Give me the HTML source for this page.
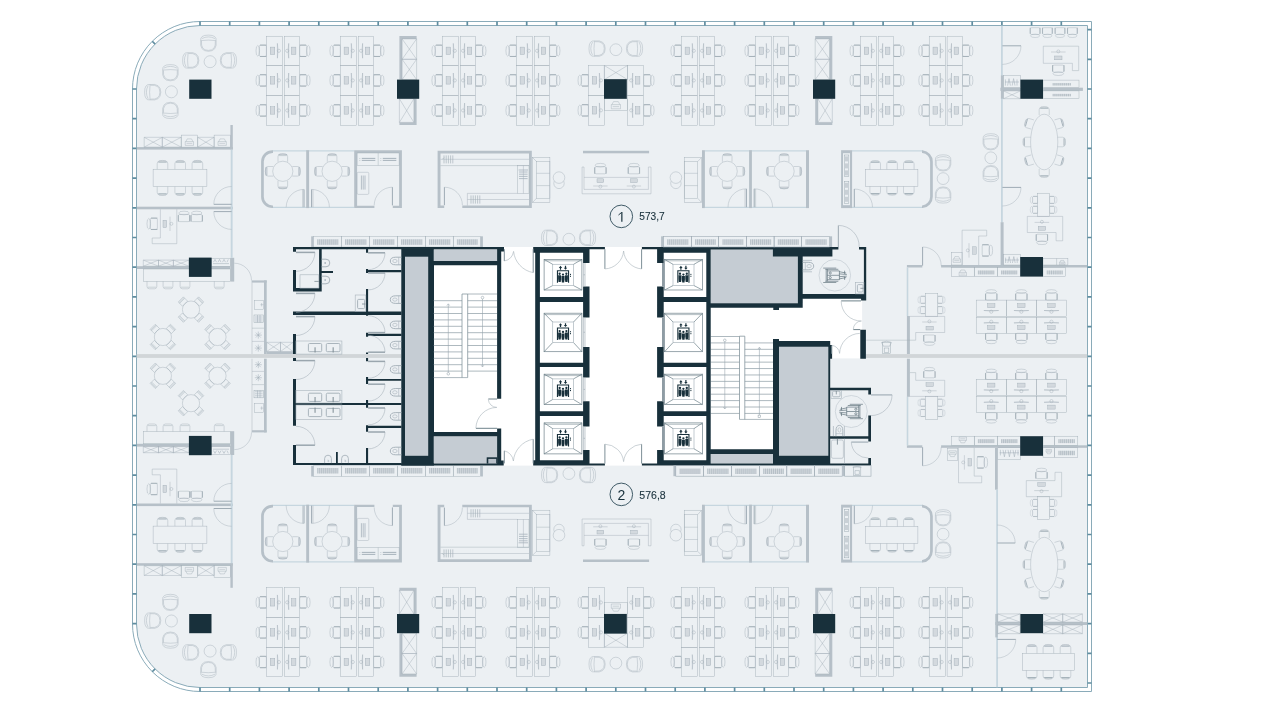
<!DOCTYPE html>
<html><head><meta charset="utf-8"><title>Floor plan</title>
<style>
html,body{margin:0;padding:0;background:#fff;}
body{width:1267px;height:712px;overflow:hidden;font-family:"Liberation Sans",sans-serif;}
svg{display:block;will-change:transform;}
text{font-family:"Liberation Sans",sans-serif;}
</style></head><body>
<svg width="1267" height="712" viewBox="0 0 1267 712">
<defs>
<g id="tc"><rect x="-2" y="-5.6" width="7.2" height="11.2" rx="1.4"/><path d="M-1.2 -5.7H5.2M-1.2 5.7H5.2" stroke-width="0.85"/><ellipse cx="-3.4" cy="0" rx="1.8" ry="5.3"/></g>
<g id="mc"><path d="M-5.3 0V-5.6Q-5.3 -8.2 -2.7 -8.2H2.7Q5.3 -8.2 5.3 -5.6V0"/><path d="M-4.2 -7.1H4.2" stroke-width="0.9"/><path d="M-3.6 -8.3Q0 -9.3 3.6 -8.3"/></g>
<g id="lc"><path d="M-7.7 -2.6Q-8.5 -8.1 0 -8.1Q8.5 -8.1 7.7 -2.6"/><path d="M-7.7 -2.6Q-9 8.1 0 8.1Q9 8.1 7.7 -2.6"/><path d="M-6.9 -2.2Q-7.8 7.2 0 7.2Q7.8 7.2 6.9 -2.2"/><path d="M-7.7 -2.6Q0 -3.6 7.7 -2.6"/><path d="M-6.6 -4.6Q0 -8 6.6 -4.6"/></g>
<g id="cc"><rect x="-3.6" y="-3.2" width="7.2" height="6" /><path d="M-3.6 -2.2H3.6M-3.6 -1.2H3.6"/></g>
<g id="pc"><path d="M-4.8 0V-5.2Q-4.8 -7.8 -2.4 -7.8H2.4Q4.8 -7.8 4.8 -5.2V0"/><path d="M-4 -6.2H4M-4 -7H4"/><path d="M-4.2 -7.2Q0 -9 4.2 -7.2"/></g>
<g id="wc"><path d="M0 -3.8H-5.5Q-11 -3.8 -11 0Q-11 3.8 -5.5 3.8H0" stroke-width="1"/><path d="M-2.6 -3.8V3.8"/><ellipse cx="-6.4" cy="0" rx="2.2" ry="1.6"/></g>
<g id="eli" fill="#18303b" stroke="none"><path d="M-6.1 -4.7H6.1V7.8H5V-3.6H-5V7.8H-6.1Z"/><circle cx="-3.4" cy="-1.1" r="1.15"/><circle cx="0" cy="-0.3" r="1.15"/><circle cx="3.4" cy="-1.1" r="1.15"/><path d="M-4.9 0.4H-1.9V4.2L-2.3 7.2H-4.5L-4.9 4.2Z"/><path d="M-1.5 1.2H1.5V4.8L1.1 7.6H-1.1L-1.5 4.8Z"/><path d="M1.9 0.4H4.9V4.2L4.5 7.2H2.3L1.9 4.2Z"/><path d="M-2.5 -9L-0.8 -6.9H-1.9V-5.1H-3.1V-6.9H-4.2Z"/><path d="M2.5 -5.1L0.8 -7.2H1.9V-9H3.1V-7.2H4.2Z"/><rect x="7" y="-1" width="1" height="1.1"/><rect x="7" y="0.9" width="1" height="1.1"/></g>
</defs>
<path d="M200 21.5H1091.5V691.5H200A67.5 67.5 0 0 1 132.5 624V89A67.5 67.5 0 0 1 200 21.5Z" fill="#ffffff" stroke="#8aabb9" stroke-width="1"/>
<path d="M200 25.5H1087.5V687.5H200A63.5 63.5 0 0 1 136.5 624V89A63.5 63.5 0 0 1 200 25.5Z" fill="#ecf0f3" stroke="#8aabb9" stroke-width="1"/>
<path d="M200 21.5V25.5M200 687.5V691.5M229.7 21.5V25.5M229.7 687.5V691.5M259.4 21.5V25.5M259.4 687.5V691.5M289.1 21.5V25.5M289.1 687.5V691.5M318.8 21.5V25.5M318.8 687.5V691.5M348.5 21.5V25.5M348.5 687.5V691.5M378.2 21.5V25.5M378.2 687.5V691.5M407.9 21.5V25.5M407.9 687.5V691.5M437.6 21.5V25.5M437.6 687.5V691.5M467.3 21.5V25.5M467.3 687.5V691.5M497 21.5V25.5M497 687.5V691.5M526.7 21.5V25.5M526.7 687.5V691.5M556.4 21.5V25.5M556.4 687.5V691.5M586.1 21.5V25.5M586.1 687.5V691.5M615.8 21.5V25.5M615.8 687.5V691.5M645.5 21.5V25.5M645.5 687.5V691.5M675.2 21.5V25.5M675.2 687.5V691.5M704.9 21.5V25.5M704.9 687.5V691.5M734.6 21.5V25.5M734.6 687.5V691.5M764.3 21.5V25.5M764.3 687.5V691.5M794 21.5V25.5M794 687.5V691.5M823.7 21.5V25.5M823.7 687.5V691.5M853.4 21.5V25.5M853.4 687.5V691.5M883.1 21.5V25.5M883.1 687.5V691.5M912.8 21.5V25.5M912.8 687.5V691.5M942.5 21.5V25.5M942.5 687.5V691.5M972.2 21.5V25.5M972.2 687.5V691.5M1001.9 21.5V25.5M1001.9 687.5V691.5M1031.6 21.5V25.5M1031.6 687.5V691.5M1061.3 21.5V25.5M1061.3 687.5V691.5M132.5 89H136.5M132.5 118.7H136.5M132.5 148.4H136.5M132.5 178.1H136.5M132.5 207.8H136.5M132.5 237.5H136.5M132.5 267.2H136.5M132.5 296.9H136.5M132.5 326.6H136.5M132.5 356.3H136.5M132.5 386H136.5M132.5 415.7H136.5M132.5 445.4H136.5M132.5 475.1H136.5M132.5 504.8H136.5M132.5 534.5H136.5M132.5 564.2H136.5M132.5 593.9H136.5M132.5 623.6H136.5M1087.5 29.6H1091.5M1087.5 59.3H1091.5M1087.5 89H1091.5M1087.5 118.7H1091.5M1087.5 148.4H1091.5M1087.5 178.1H1091.5M1087.5 207.8H1091.5M1087.5 237.5H1091.5M1087.5 267.2H1091.5M1087.5 296.9H1091.5M1087.5 326.6H1091.5M1087.5 356.3H1091.5M1087.5 386H1091.5M1087.5 415.7H1091.5M1087.5 445.4H1091.5M1087.5 475.1H1091.5M1087.5 504.8H1091.5M1087.5 534.5H1091.5M1087.5 564.2H1091.5M1087.5 593.9H1091.5M1087.5 623.6H1091.5M1087.5 653.3H1091.5M1087.5 683H1091.5M152.27 41.27L155.1 44.1M152.27 671.73L155.1 668.9" fill="none" stroke="#5f8da0" stroke-width="1.7"/>
<g fill="none" stroke="#9eabb4" stroke-width="0.42">
<rect x="266.4" y="36.2" width="16.3" height="29.2"/>
<rect x="270.2" y="47.1" width="4.6" height="7.4" fill="#d3d9de" stroke-width="0.4"/>
<path d="M277.4 43.4Q278.6 50.8 277.4 58.2"/>
<path d="M277.4 43.4V58.2"/>
<circle cx="278.9" cy="50.8" r="1.6"/>
<use href="#tc" transform="translate(261.2 50.8)"/>
<rect x="284.3" y="36.2" width="15.4" height="29.2"/>
<rect x="291.3" y="47.1" width="4.6" height="7.4" fill="#d3d9de" stroke-width="0.4"/>
<path d="M288.7 43.4Q287.5 50.8 288.7 58.2"/>
<path d="M288.7 43.4V58.2"/>
<circle cx="287.2" cy="50.8" r="1.6"/>
<use href="#tc" transform="translate(304.9 50.8) rotate(180)"/>
<rect x="266.4" y="65.4" width="16.3" height="30"/>
<rect x="270.2" y="76.7" width="4.6" height="7.4" fill="#d3d9de" stroke-width="0.4"/>
<path d="M277.4 73Q278.6 80.4 277.4 87.8"/>
<path d="M277.4 73V87.8"/>
<circle cx="278.9" cy="80.4" r="1.6"/>
<use href="#tc" transform="translate(261.2 80.4)"/>
<rect x="284.3" y="65.4" width="15.4" height="30"/>
<rect x="291.3" y="76.7" width="4.6" height="7.4" fill="#d3d9de" stroke-width="0.4"/>
<path d="M288.7 73Q287.5 80.4 288.7 87.8"/>
<path d="M288.7 73V87.8"/>
<circle cx="287.2" cy="80.4" r="1.6"/>
<use href="#tc" transform="translate(304.9 80.4) rotate(180)"/>
<rect x="266.4" y="95.4" width="16.3" height="30.1"/>
<rect x="270.2" y="106.75" width="4.6" height="7.4" fill="#d3d9de" stroke-width="0.4"/>
<path d="M277.4 103.05Q278.6 110.45 277.4 117.85"/>
<path d="M277.4 103.05V117.85"/>
<circle cx="278.9" cy="110.45" r="1.6"/>
<use href="#tc" transform="translate(261.2 110.45)"/>
<rect x="284.3" y="95.4" width="15.4" height="30.1"/>
<rect x="291.3" y="106.75" width="4.6" height="7.4" fill="#d3d9de" stroke-width="0.4"/>
<path d="M288.7 103.05Q287.5 110.45 288.7 117.85"/>
<path d="M288.7 103.05V117.85"/>
<circle cx="287.2" cy="110.45" r="1.6"/>
<use href="#tc" transform="translate(304.9 110.45) rotate(180)"/>
<rect x="340.3" y="36.2" width="16.3" height="29.2"/>
<rect x="344.1" y="47.1" width="4.6" height="7.4" fill="#d3d9de" stroke-width="0.4"/>
<path d="M351.3 43.4Q352.5 50.8 351.3 58.2"/>
<path d="M351.3 43.4V58.2"/>
<circle cx="352.8" cy="50.8" r="1.6"/>
<use href="#tc" transform="translate(335.1 50.8)"/>
<rect x="358.2" y="36.2" width="15.4" height="29.2"/>
<rect x="365.2" y="47.1" width="4.6" height="7.4" fill="#d3d9de" stroke-width="0.4"/>
<path d="M362.6 43.4Q361.4 50.8 362.6 58.2"/>
<path d="M362.6 43.4V58.2"/>
<circle cx="361.1" cy="50.8" r="1.6"/>
<use href="#tc" transform="translate(378.8 50.8) rotate(180)"/>
<rect x="340.3" y="65.4" width="16.3" height="30"/>
<rect x="344.1" y="76.7" width="4.6" height="7.4" fill="#d3d9de" stroke-width="0.4"/>
<path d="M351.3 73Q352.5 80.4 351.3 87.8"/>
<path d="M351.3 73V87.8"/>
<circle cx="352.8" cy="80.4" r="1.6"/>
<use href="#tc" transform="translate(335.1 80.4)"/>
<rect x="358.2" y="65.4" width="15.4" height="30"/>
<rect x="365.2" y="76.7" width="4.6" height="7.4" fill="#d3d9de" stroke-width="0.4"/>
<path d="M362.6 73Q361.4 80.4 362.6 87.8"/>
<path d="M362.6 73V87.8"/>
<circle cx="361.1" cy="80.4" r="1.6"/>
<use href="#tc" transform="translate(378.8 80.4) rotate(180)"/>
<rect x="340.3" y="95.4" width="16.3" height="30.1"/>
<rect x="344.1" y="106.75" width="4.6" height="7.4" fill="#d3d9de" stroke-width="0.4"/>
<path d="M351.3 103.05Q352.5 110.45 351.3 117.85"/>
<path d="M351.3 103.05V117.85"/>
<circle cx="352.8" cy="110.45" r="1.6"/>
<use href="#tc" transform="translate(335.1 110.45)"/>
<rect x="358.2" y="95.4" width="15.4" height="30.1"/>
<rect x="365.2" y="106.75" width="4.6" height="7.4" fill="#d3d9de" stroke-width="0.4"/>
<path d="M362.6 103.05Q361.4 110.45 362.6 117.85"/>
<path d="M362.6 103.05V117.85"/>
<circle cx="361.1" cy="110.45" r="1.6"/>
<use href="#tc" transform="translate(378.8 110.45) rotate(180)"/>
<rect x="442.3" y="36.2" width="16.3" height="29.2"/>
<rect x="446.1" y="47.1" width="4.6" height="7.4" fill="#d3d9de" stroke-width="0.4"/>
<path d="M453.3 43.4Q454.5 50.8 453.3 58.2"/>
<path d="M453.3 43.4V58.2"/>
<circle cx="454.8" cy="50.8" r="1.6"/>
<use href="#tc" transform="translate(437.1 50.8)"/>
<rect x="460.2" y="36.2" width="15.4" height="29.2"/>
<rect x="467.2" y="47.1" width="4.6" height="7.4" fill="#d3d9de" stroke-width="0.4"/>
<path d="M464.6 43.4Q463.4 50.8 464.6 58.2"/>
<path d="M464.6 43.4V58.2"/>
<circle cx="463.1" cy="50.8" r="1.6"/>
<use href="#tc" transform="translate(480.8 50.8) rotate(180)"/>
<rect x="442.3" y="65.4" width="16.3" height="30"/>
<rect x="446.1" y="76.7" width="4.6" height="7.4" fill="#d3d9de" stroke-width="0.4"/>
<path d="M453.3 73Q454.5 80.4 453.3 87.8"/>
<path d="M453.3 73V87.8"/>
<circle cx="454.8" cy="80.4" r="1.6"/>
<use href="#tc" transform="translate(437.1 80.4)"/>
<rect x="460.2" y="65.4" width="15.4" height="30"/>
<rect x="467.2" y="76.7" width="4.6" height="7.4" fill="#d3d9de" stroke-width="0.4"/>
<path d="M464.6 73Q463.4 80.4 464.6 87.8"/>
<path d="M464.6 73V87.8"/>
<circle cx="463.1" cy="80.4" r="1.6"/>
<use href="#tc" transform="translate(480.8 80.4) rotate(180)"/>
<rect x="442.3" y="95.4" width="16.3" height="30.1"/>
<rect x="446.1" y="106.75" width="4.6" height="7.4" fill="#d3d9de" stroke-width="0.4"/>
<path d="M453.3 103.05Q454.5 110.45 453.3 117.85"/>
<path d="M453.3 103.05V117.85"/>
<circle cx="454.8" cy="110.45" r="1.6"/>
<use href="#tc" transform="translate(437.1 110.45)"/>
<rect x="460.2" y="95.4" width="15.4" height="30.1"/>
<rect x="467.2" y="106.75" width="4.6" height="7.4" fill="#d3d9de" stroke-width="0.4"/>
<path d="M464.6 103.05Q463.4 110.45 464.6 117.85"/>
<path d="M464.6 103.05V117.85"/>
<circle cx="463.1" cy="110.45" r="1.6"/>
<use href="#tc" transform="translate(480.8 110.45) rotate(180)"/>
<rect x="516.3" y="36.2" width="16.3" height="29.2"/>
<rect x="520.1" y="47.1" width="4.6" height="7.4" fill="#d3d9de" stroke-width="0.4"/>
<path d="M527.3 43.4Q528.5 50.8 527.3 58.2"/>
<path d="M527.3 43.4V58.2"/>
<circle cx="528.8" cy="50.8" r="1.6"/>
<use href="#tc" transform="translate(511.1 50.8)"/>
<rect x="534.2" y="36.2" width="15.4" height="29.2"/>
<rect x="541.2" y="47.1" width="4.6" height="7.4" fill="#d3d9de" stroke-width="0.4"/>
<path d="M538.6 43.4Q537.4 50.8 538.6 58.2"/>
<path d="M538.6 43.4V58.2"/>
<circle cx="537.1" cy="50.8" r="1.6"/>
<use href="#tc" transform="translate(554.8 50.8) rotate(180)"/>
<rect x="516.3" y="65.4" width="16.3" height="30"/>
<rect x="520.1" y="76.7" width="4.6" height="7.4" fill="#d3d9de" stroke-width="0.4"/>
<path d="M527.3 73Q528.5 80.4 527.3 87.8"/>
<path d="M527.3 73V87.8"/>
<circle cx="528.8" cy="80.4" r="1.6"/>
<use href="#tc" transform="translate(511.1 80.4)"/>
<rect x="534.2" y="65.4" width="15.4" height="30"/>
<rect x="541.2" y="76.7" width="4.6" height="7.4" fill="#d3d9de" stroke-width="0.4"/>
<path d="M538.6 73Q537.4 80.4 538.6 87.8"/>
<path d="M538.6 73V87.8"/>
<circle cx="537.1" cy="80.4" r="1.6"/>
<use href="#tc" transform="translate(554.8 80.4) rotate(180)"/>
<rect x="516.3" y="95.4" width="16.3" height="30.1"/>
<rect x="520.1" y="106.75" width="4.6" height="7.4" fill="#d3d9de" stroke-width="0.4"/>
<path d="M527.3 103.05Q528.5 110.45 527.3 117.85"/>
<path d="M527.3 103.05V117.85"/>
<circle cx="528.8" cy="110.45" r="1.6"/>
<use href="#tc" transform="translate(511.1 110.45)"/>
<rect x="534.2" y="95.4" width="15.4" height="30.1"/>
<rect x="541.2" y="106.75" width="4.6" height="7.4" fill="#d3d9de" stroke-width="0.4"/>
<path d="M538.6 103.05Q537.4 110.45 538.6 117.85"/>
<path d="M538.6 103.05V117.85"/>
<circle cx="537.1" cy="110.45" r="1.6"/>
<use href="#tc" transform="translate(554.8 110.45) rotate(180)"/>
<rect x="681.3" y="36.2" width="16.3" height="29.2"/>
<rect x="685.1" y="47.1" width="4.6" height="7.4" fill="#d3d9de" stroke-width="0.4"/>
<path d="M692.3 43.4Q693.5 50.8 692.3 58.2"/>
<path d="M692.3 43.4V58.2"/>
<circle cx="693.8" cy="50.8" r="1.6"/>
<use href="#tc" transform="translate(676.1 50.8)"/>
<rect x="699.2" y="36.2" width="15.4" height="29.2"/>
<rect x="706.2" y="47.1" width="4.6" height="7.4" fill="#d3d9de" stroke-width="0.4"/>
<path d="M703.6 43.4Q702.4 50.8 703.6 58.2"/>
<path d="M703.6 43.4V58.2"/>
<circle cx="702.1" cy="50.8" r="1.6"/>
<use href="#tc" transform="translate(719.8 50.8) rotate(180)"/>
<rect x="681.3" y="65.4" width="16.3" height="30"/>
<rect x="685.1" y="76.7" width="4.6" height="7.4" fill="#d3d9de" stroke-width="0.4"/>
<path d="M692.3 73Q693.5 80.4 692.3 87.8"/>
<path d="M692.3 73V87.8"/>
<circle cx="693.8" cy="80.4" r="1.6"/>
<use href="#tc" transform="translate(676.1 80.4)"/>
<rect x="699.2" y="65.4" width="15.4" height="30"/>
<rect x="706.2" y="76.7" width="4.6" height="7.4" fill="#d3d9de" stroke-width="0.4"/>
<path d="M703.6 73Q702.4 80.4 703.6 87.8"/>
<path d="M703.6 73V87.8"/>
<circle cx="702.1" cy="80.4" r="1.6"/>
<use href="#tc" transform="translate(719.8 80.4) rotate(180)"/>
<rect x="681.3" y="95.4" width="16.3" height="30.1"/>
<rect x="685.1" y="106.75" width="4.6" height="7.4" fill="#d3d9de" stroke-width="0.4"/>
<path d="M692.3 103.05Q693.5 110.45 692.3 117.85"/>
<path d="M692.3 103.05V117.85"/>
<circle cx="693.8" cy="110.45" r="1.6"/>
<use href="#tc" transform="translate(676.1 110.45)"/>
<rect x="699.2" y="95.4" width="15.4" height="30.1"/>
<rect x="706.2" y="106.75" width="4.6" height="7.4" fill="#d3d9de" stroke-width="0.4"/>
<path d="M703.6 103.05Q702.4 110.45 703.6 117.85"/>
<path d="M703.6 103.05V117.85"/>
<circle cx="702.1" cy="110.45" r="1.6"/>
<use href="#tc" transform="translate(719.8 110.45) rotate(180)"/>
<rect x="755.3" y="36.2" width="16.3" height="29.2"/>
<rect x="759.1" y="47.1" width="4.6" height="7.4" fill="#d3d9de" stroke-width="0.4"/>
<path d="M766.3 43.4Q767.5 50.8 766.3 58.2"/>
<path d="M766.3 43.4V58.2"/>
<circle cx="767.8" cy="50.8" r="1.6"/>
<use href="#tc" transform="translate(750.1 50.8)"/>
<rect x="773.2" y="36.2" width="15.4" height="29.2"/>
<rect x="780.2" y="47.1" width="4.6" height="7.4" fill="#d3d9de" stroke-width="0.4"/>
<path d="M777.6 43.4Q776.4 50.8 777.6 58.2"/>
<path d="M777.6 43.4V58.2"/>
<circle cx="776.1" cy="50.8" r="1.6"/>
<use href="#tc" transform="translate(793.8 50.8) rotate(180)"/>
<rect x="755.3" y="65.4" width="16.3" height="30"/>
<rect x="759.1" y="76.7" width="4.6" height="7.4" fill="#d3d9de" stroke-width="0.4"/>
<path d="M766.3 73Q767.5 80.4 766.3 87.8"/>
<path d="M766.3 73V87.8"/>
<circle cx="767.8" cy="80.4" r="1.6"/>
<use href="#tc" transform="translate(750.1 80.4)"/>
<rect x="773.2" y="65.4" width="15.4" height="30"/>
<rect x="780.2" y="76.7" width="4.6" height="7.4" fill="#d3d9de" stroke-width="0.4"/>
<path d="M777.6 73Q776.4 80.4 777.6 87.8"/>
<path d="M777.6 73V87.8"/>
<circle cx="776.1" cy="80.4" r="1.6"/>
<use href="#tc" transform="translate(793.8 80.4) rotate(180)"/>
<rect x="755.3" y="95.4" width="16.3" height="30.1"/>
<rect x="759.1" y="106.75" width="4.6" height="7.4" fill="#d3d9de" stroke-width="0.4"/>
<path d="M766.3 103.05Q767.5 110.45 766.3 117.85"/>
<path d="M766.3 103.05V117.85"/>
<circle cx="767.8" cy="110.45" r="1.6"/>
<use href="#tc" transform="translate(750.1 110.45)"/>
<rect x="773.2" y="95.4" width="15.4" height="30.1"/>
<rect x="780.2" y="106.75" width="4.6" height="7.4" fill="#d3d9de" stroke-width="0.4"/>
<path d="M777.6 103.05Q776.4 110.45 777.6 117.85"/>
<path d="M777.6 103.05V117.85"/>
<circle cx="776.1" cy="110.45" r="1.6"/>
<use href="#tc" transform="translate(793.8 110.45) rotate(180)"/>
<rect x="860.4" y="36.2" width="16.3" height="29.2"/>
<rect x="864.2" y="47.1" width="4.6" height="7.4" fill="#d3d9de" stroke-width="0.4"/>
<path d="M871.4 43.4Q872.6 50.8 871.4 58.2"/>
<path d="M871.4 43.4V58.2"/>
<circle cx="872.9" cy="50.8" r="1.6"/>
<use href="#tc" transform="translate(855.2 50.8)"/>
<rect x="878.3" y="36.2" width="15.4" height="29.2"/>
<rect x="885.3" y="47.1" width="4.6" height="7.4" fill="#d3d9de" stroke-width="0.4"/>
<path d="M882.7 43.4Q881.5 50.8 882.7 58.2"/>
<path d="M882.7 43.4V58.2"/>
<circle cx="881.2" cy="50.8" r="1.6"/>
<use href="#tc" transform="translate(898.9 50.8) rotate(180)"/>
<rect x="860.4" y="65.4" width="16.3" height="30"/>
<rect x="864.2" y="76.7" width="4.6" height="7.4" fill="#d3d9de" stroke-width="0.4"/>
<path d="M871.4 73Q872.6 80.4 871.4 87.8"/>
<path d="M871.4 73V87.8"/>
<circle cx="872.9" cy="80.4" r="1.6"/>
<use href="#tc" transform="translate(855.2 80.4)"/>
<rect x="878.3" y="65.4" width="15.4" height="30"/>
<rect x="885.3" y="76.7" width="4.6" height="7.4" fill="#d3d9de" stroke-width="0.4"/>
<path d="M882.7 73Q881.5 80.4 882.7 87.8"/>
<path d="M882.7 73V87.8"/>
<circle cx="881.2" cy="80.4" r="1.6"/>
<use href="#tc" transform="translate(898.9 80.4) rotate(180)"/>
<rect x="860.4" y="95.4" width="16.3" height="30.1"/>
<rect x="864.2" y="106.75" width="4.6" height="7.4" fill="#d3d9de" stroke-width="0.4"/>
<path d="M871.4 103.05Q872.6 110.45 871.4 117.85"/>
<path d="M871.4 103.05V117.85"/>
<circle cx="872.9" cy="110.45" r="1.6"/>
<use href="#tc" transform="translate(855.2 110.45)"/>
<rect x="878.3" y="95.4" width="15.4" height="30.1"/>
<rect x="885.3" y="106.75" width="4.6" height="7.4" fill="#d3d9de" stroke-width="0.4"/>
<path d="M882.7 103.05Q881.5 110.45 882.7 117.85"/>
<path d="M882.7 103.05V117.85"/>
<circle cx="881.2" cy="110.45" r="1.6"/>
<use href="#tc" transform="translate(898.9 110.45) rotate(180)"/>
<rect x="929.2" y="36.2" width="16.3" height="29.2"/>
<rect x="933" y="47.1" width="4.6" height="7.4" fill="#d3d9de" stroke-width="0.4"/>
<path d="M940.2 43.4Q941.4 50.8 940.2 58.2"/>
<path d="M940.2 43.4V58.2"/>
<circle cx="941.7" cy="50.8" r="1.6"/>
<use href="#tc" transform="translate(924 50.8)"/>
<rect x="947.1" y="36.2" width="15.4" height="29.2"/>
<rect x="954.1" y="47.1" width="4.6" height="7.4" fill="#d3d9de" stroke-width="0.4"/>
<path d="M951.5 43.4Q950.3 50.8 951.5 58.2"/>
<path d="M951.5 43.4V58.2"/>
<circle cx="950" cy="50.8" r="1.6"/>
<use href="#tc" transform="translate(967.7 50.8) rotate(180)"/>
<rect x="929.2" y="65.4" width="16.3" height="30"/>
<rect x="933" y="76.7" width="4.6" height="7.4" fill="#d3d9de" stroke-width="0.4"/>
<path d="M940.2 73Q941.4 80.4 940.2 87.8"/>
<path d="M940.2 73V87.8"/>
<circle cx="941.7" cy="80.4" r="1.6"/>
<use href="#tc" transform="translate(924 80.4)"/>
<rect x="947.1" y="65.4" width="15.4" height="30"/>
<rect x="954.1" y="76.7" width="4.6" height="7.4" fill="#d3d9de" stroke-width="0.4"/>
<path d="M951.5 73Q950.3 80.4 951.5 87.8"/>
<path d="M951.5 73V87.8"/>
<circle cx="950" cy="80.4" r="1.6"/>
<use href="#tc" transform="translate(967.7 80.4) rotate(180)"/>
<rect x="929.2" y="95.4" width="16.3" height="30.1"/>
<rect x="933" y="106.75" width="4.6" height="7.4" fill="#d3d9de" stroke-width="0.4"/>
<path d="M940.2 103.05Q941.4 110.45 940.2 117.85"/>
<path d="M940.2 103.05V117.85"/>
<circle cx="941.7" cy="110.45" r="1.6"/>
<use href="#tc" transform="translate(924 110.45)"/>
<rect x="947.1" y="95.4" width="15.4" height="30.1"/>
<rect x="954.1" y="106.75" width="4.6" height="7.4" fill="#d3d9de" stroke-width="0.4"/>
<path d="M951.5 103.05Q950.3 110.45 951.5 117.85"/>
<path d="M951.5 103.05V117.85"/>
<circle cx="950" cy="110.45" r="1.6"/>
<use href="#tc" transform="translate(967.7 110.45) rotate(180)"/>
<path d="M399.4 36.1H416.6V38.9H402.1V79.6H399.4Z" fill="#b6c0c8" stroke="none"/>
<path d="M402.1 38.9H416.6V59.3H402.1ZM402.1 38.9L416.6 59.3M402.1 59.3L416.6 38.9"/>
<path d="M402.1 59.3H416.6V79.6H402.1ZM402.1 59.3L416.6 79.6M402.1 79.6L416.6 59.3"/>
<path d="M416.6 125.1H399.4V122.4H413.9V98.8H416.6Z" fill="#b6c0c8" stroke="none"/>
<path d="M399.4 98.8H413.9V122.4H399.4ZM399.4 98.8L413.9 122.4M399.4 122.4L413.9 98.8"/>
<path d="M832.3 36.1H815.2V38.9H829.6V79.6H832.3Z" fill="#b6c0c8" stroke="none"/>
<path d="M815.2 38.9H829.6V59.3H815.2ZM815.2 38.9L829.6 59.3M815.2 59.3L829.6 38.9"/>
<path d="M815.2 59.3H829.6V79.6H815.2ZM815.2 59.3L829.6 79.6M815.2 79.6L829.6 59.3"/>
<path d="M815.2 125.1H832.3V122.4H817.9V98.8H815.2Z" fill="#b6c0c8" stroke="none"/>
<path d="M817.9 98.8H832.3V122.4H817.9ZM817.9 98.8L832.3 122.4M817.9 122.4L832.3 98.8"/>
<rect x="588.4" y="65.5" width="15.9" height="29.8"/>
<rect x="592.2" y="76.7" width="4.6" height="7.4" fill="#d3d9de" stroke-width="0.4"/>
<path d="M599.4 73Q600.6 80.4 599.4 87.8"/>
<path d="M599.4 73V87.8"/>
<circle cx="600.9" cy="80.4" r="1.6"/>
<use href="#tc" transform="translate(583.2 80.4)"/>
<rect x="627.5" y="65.5" width="16.2" height="29.8"/>
<rect x="635.3" y="76.7" width="4.6" height="7.4" fill="#d3d9de" stroke-width="0.4"/>
<path d="M632.7 73Q631.5 80.4 632.7 87.8"/>
<path d="M632.7 73V87.8"/>
<circle cx="631.2" cy="80.4" r="1.6"/>
<use href="#tc" transform="translate(648.9 80.4) rotate(180)"/>
<rect x="588.4" y="95.3" width="15.9" height="30.1"/>
<rect x="592.2" y="106.65" width="4.6" height="7.4" fill="#d3d9de" stroke-width="0.4"/>
<path d="M599.4 102.95Q600.6 110.35 599.4 117.75"/>
<path d="M599.4 102.95V117.75"/>
<circle cx="600.9" cy="110.35" r="1.6"/>
<use href="#tc" transform="translate(583.2 110.35)"/>
<rect x="627.5" y="95.3" width="16.2" height="30.1"/>
<rect x="635.3" y="106.65" width="4.6" height="7.4" fill="#d3d9de" stroke-width="0.4"/>
<path d="M632.7 102.95Q631.5 110.35 632.7 117.75"/>
<path d="M632.7 102.95V117.75"/>
<circle cx="631.2" cy="110.35" r="1.6"/>
<use href="#tc" transform="translate(648.9 110.35) rotate(180)"/>
<path d="M604.3 65.5H627.5V79.6H604.3ZM604.3 65.5L627.5 79.6M604.3 79.6L627.5 65.5"/>
<rect x="604.3" y="98.8" width="23.2" height="11.5"/>
<path d="M611.3 104.6H620.5V108.8H611.3Z"/>
<path d="M611.9 104.6L613.5 101.6H618.3L619.9 104.6"/>
<path d="M612.7 106.6H619.1"/>
<use href="#lc" transform="translate(597.1 48.6) rotate(-90)"/>
<circle cx="615.9" cy="49.7" r="5.9"/>
<use href="#lc" transform="translate(634.5 48.6) rotate(90)"/>
<circle cx="210.1" cy="61.7" r="6"/>
<use href="#lc" transform="translate(208.4 43.2)"/>
<use href="#lc" transform="translate(190.7 60.4) rotate(-90)"/>
<use href="#lc" transform="translate(228.4 60.4) rotate(90)"/>
<circle cx="171.4" cy="91.8" r="6"/>
<use href="#lc" transform="translate(170.4 72.7)"/>
<use href="#lc" transform="translate(152.7 92.2) rotate(-90)"/>
<use href="#lc" transform="translate(170.4 110.4) rotate(180)"/>
<rect x="136.8" y="147.1" width="96" height="2.5" fill="#b6c0c8" stroke="none"/>
<rect x="230.4" y="125" width="2.4" height="24.6" fill="#b6c0c8" stroke="none"/>
<rect x="136.8" y="206.7" width="96" height="2.6" fill="#b6c0c8" stroke="none"/>
<rect x="136.8" y="266.2" width="93.7" height="2.8" fill="#b6c0c8" stroke="none"/>
<rect x="230.5" y="257.8" width="3.7" height="23.8" fill="#b6c0c8" stroke="none"/>
<rect x="230.7" y="149.6" width="1.9" height="108.2" fill="#c6d6df" stroke="none"/>
<path d="M144.2 137.3H162.3V147.1H144.2ZM144.2 137.3L162.3 147.1M144.2 147.1L162.3 137.3"/>
<path d="M162.3 137.3H181.2V147.1H162.3ZM162.3 137.3L181.2 147.1M162.3 147.1L181.2 137.3"/>
<rect x="181.2" y="135.1" width="16.5" height="12"/>
<path d="M185.26 141.6H193.54V145.38H185.26Z"/>
<path d="M185.86 141.6L187.24 138.9H191.56L192.94 141.6"/>
<path d="M186.52 143.4H192.28"/>
<path d="M197.7 137.3H214.1V147.1H197.7ZM197.7 137.3L214.1 147.1M197.7 147.1L214.1 137.3"/>
<rect x="214.1" y="135.1" width="16.3" height="12"/>
<path d="M218.06 141.6H226.34V145.38H218.06Z"/>
<path d="M218.66 141.6L220.04 138.9H224.36L225.74 141.6"/>
<path d="M219.32 143.4H225.08"/>
<rect x="153.1" y="169.2" width="53.8" height="17.5"/>
<use href="#mc" transform="translate(162.5 169.2)"/>
<use href="#mc" transform="translate(162.5 186.7) rotate(180)"/>
<use href="#mc" transform="translate(180.2 169.2)"/>
<use href="#mc" transform="translate(180.2 186.7) rotate(180)"/>
<use href="#mc" transform="translate(197.4 169.2)"/>
<use href="#mc" transform="translate(197.4 186.7) rotate(180)"/>
<path d="M213.8 204.3A17.8 17.8 0 0 1 231.6 186.5"/>
<path d="M231.6 204.3L213.8 204.3" stroke-width="1"/>
<path d="M213.8 211.6A17.8 17.8 0 0 0 231.6 229.4"/>
<path d="M231.6 211.6L213.8 211.6" stroke-width="1"/>
<path d="M160.4 209.3V238H152.2V243.7H176.8V209.3"/>
<use href="#tc" transform="translate(152.2 223.8)"/>
<rect x="163" y="220.2" width="3.6" height="7.4" fill="#d3d9de" stroke-width="0.4"/>
<path d="M170 216.6V231"/>
<circle cx="171.4" cy="223.8" r="1.5"/>
<use href="#tc" transform="translate(184 216.4) rotate(90)"/>
<use href="#tc" transform="translate(196.7 216.4) rotate(90)"/>
<path d="M143.3 260.1H158.5V266.2H143.3ZM143.3 260.1L158.5 266.2M143.3 266.2L158.5 260.1"/>
<path d="M158.5 260.1H173.4V266.2H158.5ZM158.5 260.1L173.4 266.2M158.5 266.2L173.4 260.1"/>
<path d="M173.4 260.1H188.9V266.2H173.4ZM173.4 260.1L188.9 266.2M173.4 266.2L188.9 260.1"/>
<rect x="211.6" y="258.2" width="18.9" height="8"/>
<path d="M213.5 262.2L215 259.4L216.5 262.2M218 262.2L219.5 259.4L221 262.2M222.5 262.2L224 259.4L225.5 262.2M227 262.2L228.3 259.4M213 263.6H229" stroke-width="0.5"/>
<rect x="143.3" y="269" width="87.2" height="12.3"/>
<path d="M147 281.3V286.4Q147 288.8 149.4 288.8H154.4Q156.8 288.8 156.8 286.4V281.3"/>
<path d="M147.9 287.2H155.9"/>
<path d="M163.1 281.3V286.4Q163.1 288.8 165.5 288.8H170.5Q172.9 288.8 172.9 286.4V281.3"/>
<path d="M164 287.2H172"/>
<path d="M180.1 281.3V286.4Q180.1 288.8 182.5 288.8H187.5Q189.9 288.8 189.9 286.4V281.3"/>
<path d="M181 287.2H189"/>
<path d="M214.3 281.3V286.4Q214.3 288.8 216.7 288.8H221.7Q224.1 288.8 224.1 286.4V281.3"/>
<path d="M215.2 287.2H223.2"/>
<circle cx="191" cy="309.6" r="8.6"/>
<use href="#cc" transform="translate(191 309.6) rotate(45) translate(0 -11.2)"/>
<use href="#cc" transform="translate(191 309.6) rotate(135) translate(0 -11.2)"/>
<use href="#cc" transform="translate(191 309.6) rotate(225) translate(0 -11.2)"/>
<use href="#cc" transform="translate(191 309.6) rotate(315) translate(0 -11.2)"/>
<circle cx="162.9" cy="337" r="8.6"/>
<use href="#cc" transform="translate(162.9 337) rotate(45) translate(0 -11.2)"/>
<use href="#cc" transform="translate(162.9 337) rotate(135) translate(0 -11.2)"/>
<use href="#cc" transform="translate(162.9 337) rotate(225) translate(0 -11.2)"/>
<use href="#cc" transform="translate(162.9 337) rotate(315) translate(0 -11.2)"/>
<circle cx="217.5" cy="337" r="8.6"/>
<use href="#cc" transform="translate(217.5 337) rotate(45) translate(0 -11.2)"/>
<use href="#cc" transform="translate(217.5 337) rotate(135) translate(0 -11.2)"/>
<use href="#cc" transform="translate(217.5 337) rotate(225) translate(0 -11.2)"/>
<use href="#cc" transform="translate(217.5 337) rotate(315) translate(0 -11.2)"/>
<path d="M234.3 263.2A17.2 17.2 0 0 1 251.5 280.4"/>
<rect x="264" y="280.4" width="2.7" height="73.7" fill="#b6c0c8" stroke="none"/>
<rect x="251.6" y="280.4" width="15.1" height="2.2" fill="#b6c0c8" stroke="none"/>
<path d="M252 282.6V354.1"/>
<rect x="254.2" y="300.3" width="9.2" height="8.9"/>
<path d="M260.4 304.7H263.4M261.6 303V306.4"/>
<rect x="254" y="315" width="9.6" height="7.4" stroke-width="0.5"/>
<path d="M255 317H262.6M255 319H262.6M255 321H262.6M257.5 315V322.4M260 315V322.4" stroke-width="0.5"/>
<path d="M252 328.2H264M252 341.4H264"/>
<path d="M254.8 335.1H261.8M258.3 331.6V338.6M255.8 332.6L260.8 337.6M255.8 337.6L260.8 332.6" stroke-width="0.5"/>
<path d="M254.8 348.1H261.8M258.3 344.6V351.6M255.8 345.6L260.8 350.6M255.8 350.6L260.8 345.6" stroke-width="0.5"/>
<path d="M272.7 150.9H354.2M272.7 207.4H354.2" stroke="#c6d6df" stroke-width="1.4"/>
<path d="M273 151.55H272.5A10 10 0 0 0 262.45 161.6V196.7A10 10 0 0 0 272.5 206.75H273" stroke="#b6c0c8" stroke-width="2.7"/>
<rect x="306.2" y="150.2" width="2.9" height="57.9" fill="#b6c0c8" stroke="none"/>
<circle cx="282.8" cy="171.3" r="10.1"/>
<use href="#pc" transform="translate(282.8 171.3) rotate(0) translate(0 -9.5)"/>
<use href="#pc" transform="translate(282.8 171.3) rotate(90) translate(0 -9.5)"/>
<use href="#pc" transform="translate(282.8 171.3) rotate(180) translate(0 -9.5)"/>
<use href="#pc" transform="translate(282.8 171.3) rotate(270) translate(0 -9.5)"/>
<circle cx="332.1" cy="171.3" r="10.1"/>
<use href="#pc" transform="translate(332.1 171.3) rotate(0) translate(0 -9.5)"/>
<use href="#pc" transform="translate(332.1 171.3) rotate(90) translate(0 -9.5)"/>
<use href="#pc" transform="translate(332.1 171.3) rotate(180) translate(0 -9.5)"/>
<use href="#pc" transform="translate(332.1 171.3) rotate(270) translate(0 -9.5)"/>
<path d="M304 189.4A17.8 17.8 0 0 0 286.2 207.2"/>
<path d="M304 207.2L304 189.4" stroke-width="1"/>
<path d="M302.6 189.4V207.2"/>
<path d="M311.6 189.4A17.8 17.8 0 0 1 329.4 207.2"/>
<path d="M311.6 207.2L311.6 189.4" stroke-width="1"/>
<path d="M313 189.4V207.2"/>
<path d="M354.2 150.2H401.9V208.1H392.8V205.8H399.1V153H357.1V205.8H374.4V208.1H354.2Z" fill="#b6c0c8" stroke="none"/>
<rect x="357.1" y="153" width="42" height="12.3"/>
<path d="M378.2 153V165.3"/>
<path d="M361.8 158.4H375.3M361.8 160.4H375.3" stroke-width="0.9"/>
<path d="M359.8 158V158.8M359.8 160V160.8" stroke-width="0.6"/>
<path d="M382.8 158.4H396.3M382.8 160.4H396.3" stroke-width="0.9"/>
<path d="M380.8 158V158.8M380.8 160V160.8" stroke-width="0.6"/>
<rect x="357.1" y="172.3" width="11.7" height="22.1" rx="1.2"/>
<path d="M361.4 175.5V189.6M363.2 175.5V189.6M365 175.5V189.6" stroke-width="0.7"/>
<path d="M392.4 187.2A18.2 18.2 0 0 0 374.2 205.4"/>
<path d="M392.4 205.4L392.4 187.2" stroke-width="1"/>
<path d="M437.6 150.8H531.8V208.1H462.3V205.5H529V153.6H440.5V205.5H444.2V208.1H437.6Z" fill="#b6c0c8" stroke="none"/>
<path d="M440.5 165.6H529M440.5 159.3H529"/>
<path d="M444 155.4V163.4M446.2 155.4V163.4M448.4 155.4V163.4M450.6 155.4V163.4M452.8 155.4V163.4M442.4 159.3L444 157.6" stroke-width="0.6"/>
<rect x="517.3" y="165.6" width="11.7" height="27.8"/>
<path d="M523.4 165.6V193.4"/>
<path d="M518.6 170H528M519 172H527.6M519 174.2H527.6M519 176.4H527.6M519 178.6H527.6" stroke-width="0.7"/>
<path d="M467.4 205.5V193.4H517.3M467.4 199.5H529"/>
<path d="M471 195.4V203.6M473.2 195.4V203.6M475.4 195.4V203.6M477.6 195.4V203.6M479.8 195.4V203.6" stroke-width="0.6"/>
<path d="M444.4 187.2A18 18 0 0 1 462.4 205.2"/>
<path d="M444.4 205.2L444.4 187.2" stroke-width="1"/>
<rect x="532.5" y="157.5" width="17.4" height="45.1"/>
<rect x="536.5" y="161.5" width="13.4" height="36.7"/>
<path d="M536.5 173.3H549.9M536.5 185.6H549.9M532.5 157.5L536.5 161.5M532.5 202.6L536.5 198.2"/>
<circle cx="559" cy="183.4" r="5.2"/>
<circle cx="559" cy="177.6" r="5.8" fill="#ecf0f3"/>
<rect x="583" y="150.8" width="66.1" height="2.5" fill="#b6c0c8" stroke="none"/>
<path d="M582.1 167V193.8H651V167H648.4V189.4H584V167Z"/>
<path d="M584 177.4H648.4"/>
<use href="#tc" transform="translate(600.4 168.6) rotate(90)"/>
<rect x="597" y="178.8" width="6.8" height="3.8" fill="#d3d9de" stroke-width="0.4"/>
<path d="M593.2 186H607.6"/>
<circle cx="600.4" cy="186.6" r="1.5"/>
<use href="#tc" transform="translate(633.9 168.6) rotate(90)"/>
<rect x="630.5" y="178.8" width="6.8" height="3.8" fill="#d3d9de" stroke-width="0.4"/>
<path d="M626.7 186H641.1"/>
<circle cx="633.9" cy="186.6" r="1.5"/>
<rect x="684.2" y="157.5" width="17.4" height="45.1"/>
<rect x="684.2" y="161.5" width="13.5" height="36.7"/>
<path d="M684.2 173.3H697.7M684.2 185.6H697.7M701.6 157.5L697.7 161.5M701.6 202.6L697.7 198.2"/>
<circle cx="675.9" cy="183.4" r="5.2"/>
<circle cx="675.9" cy="177.6" r="5.8" fill="#ecf0f3"/>
<path d="M704.9 150.9H806M704.9 207.4H806" stroke="#c6d6df" stroke-width="1.4"/>
<rect x="702" y="150.2" width="2.9" height="57.9" fill="#b6c0c8" stroke="none"/>
<rect x="749.1" y="150.2" width="2.8" height="57.9" fill="#b6c0c8" stroke="none"/>
<rect x="806" y="150.2" width="3" height="57.9" fill="#b6c0c8" stroke="none"/>
<circle cx="727.2" cy="171.3" r="10.1"/>
<use href="#pc" transform="translate(727.2 171.3) rotate(0) translate(0 -9.5)"/>
<use href="#pc" transform="translate(727.2 171.3) rotate(90) translate(0 -9.5)"/>
<use href="#pc" transform="translate(727.2 171.3) rotate(180) translate(0 -9.5)"/>
<use href="#pc" transform="translate(727.2 171.3) rotate(270) translate(0 -9.5)"/>
<circle cx="784.1" cy="171.3" r="10.1"/>
<use href="#pc" transform="translate(784.1 171.3) rotate(0) translate(0 -9.5)"/>
<use href="#pc" transform="translate(784.1 171.3) rotate(90) translate(0 -9.5)"/>
<use href="#pc" transform="translate(784.1 171.3) rotate(180) translate(0 -9.5)"/>
<use href="#pc" transform="translate(784.1 171.3) rotate(270) translate(0 -9.5)"/>
<path d="M746.4 188.8A18.4 18.4 0 0 0 728 207.2"/>
<path d="M746.4 207.2L746.4 188.8" stroke-width="1"/>
<path d="M745 189V207.2"/>
<path d="M754.2 188.8A18.4 18.4 0 0 1 772.6 207.2"/>
<path d="M754.2 207.2L754.2 188.8" stroke-width="1"/>
<path d="M755.6 189V207.2"/>
<path d="M852 150.9H922.5M852 207.4H922.5" stroke="#c6d6df" stroke-width="1.4"/>
<path d="M922 151.55H922.4A10 10 0 0 1 931.45 161.6V196.7A10 10 0 0 1 922.4 206.75H922" stroke="#b6c0c8" stroke-width="2.7"/>
<rect x="841.1" y="150.2" width="11" height="57.9" fill="#b6c0c8" stroke="none"/>
<rect x="843" y="153.2" width="7" height="52" fill="#ecf0f3" stroke="none"/>
<rect x="844.4" y="155" width="4.4" height="21.6" stroke-width="0.5"/>
<rect x="844.4" y="181.4" width="4.4" height="22" stroke-width="0.5"/>
<rect x="845" y="156.4" width="3.2" height="5" fill="#c9d0d6" stroke="none"/>
<rect x="845" y="163.4" width="3.2" height="5" fill="#c9d0d6" stroke="none"/>
<rect x="845" y="170.4" width="3.2" height="5" fill="#c9d0d6" stroke="none"/>
<rect x="845" y="182.8" width="3.2" height="5" fill="#c9d0d6" stroke="none"/>
<rect x="845" y="189.8" width="3.2" height="5" fill="#c9d0d6" stroke="none"/>
<rect x="845" y="196.8" width="3.2" height="5" fill="#c9d0d6" stroke="none"/>
<rect x="865.4" y="169.4" width="52.5" height="17"/>
<use href="#mc" transform="translate(875.2 169.4)"/>
<use href="#mc" transform="translate(875.2 186.4) rotate(180)"/>
<use href="#mc" transform="translate(892.1 169.4)"/>
<use href="#mc" transform="translate(892.1 186.4) rotate(180)"/>
<use href="#mc" transform="translate(908.8 169.4)"/>
<use href="#mc" transform="translate(908.8 186.4) rotate(180)"/>
<path d="M854.3 189A18.2 18.2 0 0 1 872.5 207.2"/>
<path d="M854.3 207.2L854.3 189" stroke-width="1"/>
<use href="#lc" transform="translate(943.1 162.9)"/>
<circle cx="943.1" cy="178.6" r="5.9"/>
<use href="#lc" transform="translate(943.1 195) rotate(180)"/>
<rect x="311.2" y="236.3" width="2.2" height="10.7" fill="#b6c0c8" stroke="none"/>
<rect x="480.6" y="236.3" width="2.3" height="10.7" fill="#b6c0c8" stroke="none"/>
<rect x="313.4" y="236.3" width="27.9" height="10.7"/>
<rect x="317.6" y="239.3" width="20.3" height="5.5" fill="#d3d9de" stroke="none"/>
<path d="M317.6 239.3V244.8M319.63 239.3V244.8M321.66 239.3V244.8M323.69 239.3V244.8M325.72 239.3V244.8M327.75 239.3V244.8M329.78 239.3V244.8M331.81 239.3V244.8M333.84 239.3V244.8M335.87 239.3V244.8M337.9 239.3V244.8" stroke-width="0.55"/>
<rect x="341.3" y="236.3" width="28.1" height="10.7"/>
<rect x="345.5" y="239.3" width="20.5" height="5.5" fill="#d3d9de" stroke="none"/>
<path d="M345.5 239.3V244.8M347.55 239.3V244.8M349.6 239.3V244.8M351.65 239.3V244.8M353.7 239.3V244.8M355.75 239.3V244.8M357.8 239.3V244.8M359.85 239.3V244.8M361.9 239.3V244.8M363.95 239.3V244.8M366 239.3V244.8" stroke-width="0.55"/>
<rect x="369.4" y="236.3" width="27.9" height="10.7"/>
<rect x="373.6" y="239.3" width="20.3" height="5.5" fill="#d3d9de" stroke="none"/>
<path d="M373.6 239.3V244.8M375.63 239.3V244.8M377.66 239.3V244.8M379.69 239.3V244.8M381.72 239.3V244.8M383.75 239.3V244.8M385.78 239.3V244.8M387.81 239.3V244.8M389.84 239.3V244.8M391.87 239.3V244.8M393.9 239.3V244.8" stroke-width="0.55"/>
<rect x="397.3" y="236.3" width="28" height="10.7"/>
<rect x="401.5" y="239.3" width="20.4" height="5.5" fill="#d3d9de" stroke="none"/>
<path d="M401.5 239.3V244.8M403.54 239.3V244.8M405.58 239.3V244.8M407.62 239.3V244.8M409.66 239.3V244.8M411.7 239.3V244.8M413.74 239.3V244.8M415.78 239.3V244.8M417.82 239.3V244.8M419.86 239.3V244.8M421.9 239.3V244.8" stroke-width="0.55"/>
<rect x="425.3" y="236.3" width="27.9" height="10.7"/>
<rect x="429.5" y="239.3" width="20.3" height="5.5" fill="#d3d9de" stroke="none"/>
<path d="M429.5 239.3V244.8M431.53 239.3V244.8M433.56 239.3V244.8M435.59 239.3V244.8M437.62 239.3V244.8M439.65 239.3V244.8M441.68 239.3V244.8M443.71 239.3V244.8M445.74 239.3V244.8M447.77 239.3V244.8M449.8 239.3V244.8" stroke-width="0.55"/>
<rect x="453.2" y="236.3" width="27.4" height="10.7"/>
<rect x="457.4" y="239.3" width="19.8" height="5.5" fill="#d3d9de" stroke="none"/>
<path d="M457.4 239.3V244.8M459.38 239.3V244.8M461.36 239.3V244.8M463.34 239.3V244.8M465.32 239.3V244.8M467.3 239.3V244.8M469.28 239.3V244.8M471.26 239.3V244.8M473.24 239.3V244.8M475.22 239.3V244.8M477.2 239.3V244.8" stroke-width="0.55"/>
<use href="#lc" transform="translate(549.6 237.8) rotate(-90)"/>
<circle cx="568.9" cy="239.2" r="5.9"/>
<use href="#lc" transform="translate(587.5 237.8) rotate(90)"/>
<rect x="906.9" y="265" width="15.4" height="2.5" fill="#b6c0c8" stroke="none"/>
<rect x="941.1" y="265" width="146.1" height="2.5" fill="#b6c0c8" stroke="none"/>
<path d="M922.6 247A18.6 18.6 0 0 1 941.2 265.6"/>
<path d="M922.6 265.6L922.6 247" stroke-width="1"/>
<rect x="906.7" y="267.5" width="1.6" height="48.5" fill="#c6d6df" stroke="none"/>
<rect x="906.9" y="316" width="3" height="38.1" fill="#b6c0c8" stroke="none"/>
<rect x="925.3" y="293.5" width="12.5" height="22.9"/>
<use href="#tc" transform="translate(921.6 299.8) scale(0.7 0.62)"/>
<use href="#tc" transform="translate(941.4 299.8) rotate(180) scale(0.7 0.62)"/>
<use href="#tc" transform="translate(921.6 310.1) scale(0.7 0.62)"/>
<use href="#tc" transform="translate(941.4 310.1) rotate(180) scale(0.7 0.62)"/>
<path d="M909.9 316.4H944.7V332.5H915.7V340.2H909.9"/>
<use href="#tc" transform="translate(929.4 340.2) rotate(-90)"/>
<rect x="926" y="326.2" width="7.4" height="3.8" fill="#d3d9de" stroke-width="0.4"/>
<path d="M922.2 322H936.6"/>
<circle cx="929.4" cy="321.4" r="1.5"/>
<rect x="976.2" y="300.1" width="30.1" height="16.2"/>
<rect x="987.55" y="303.7" width="7.4" height="4" fill="#d3d9de" stroke-width="0.4"/>
<path d="M983.85 310.5Q991.25 311.7 998.65 310.5"/>
<path d="M983.85 310.5H998.65"/>
<circle cx="991.25" cy="311.7" r="1.6"/>
<use href="#tc" transform="translate(991.25 294.9) rotate(90)"/>
<rect x="976.2" y="317.3" width="30.1" height="16"/>
<rect x="987.55" y="325.7" width="7.4" height="4" fill="#d3d9de" stroke-width="0.4"/>
<path d="M983.85 322.9Q991.25 321.7 998.65 322.9"/>
<path d="M983.85 322.9H998.65"/>
<circle cx="991.25" cy="321.7" r="1.6"/>
<use href="#tc" transform="translate(991.25 338.5) rotate(-90)"/>
<rect x="1006.3" y="300.1" width="30.1" height="16.2"/>
<rect x="1017.65" y="303.7" width="7.4" height="4" fill="#d3d9de" stroke-width="0.4"/>
<path d="M1013.95 310.5Q1021.35 311.7 1028.75 310.5"/>
<path d="M1013.95 310.5H1028.75"/>
<circle cx="1021.35" cy="311.7" r="1.6"/>
<use href="#tc" transform="translate(1021.35 294.9) rotate(90)"/>
<rect x="1006.3" y="317.3" width="30.1" height="16"/>
<rect x="1017.65" y="325.7" width="7.4" height="4" fill="#d3d9de" stroke-width="0.4"/>
<path d="M1013.95 322.9Q1021.35 321.7 1028.75 322.9"/>
<path d="M1013.95 322.9H1028.75"/>
<circle cx="1021.35" cy="321.7" r="1.6"/>
<use href="#tc" transform="translate(1021.35 338.5) rotate(-90)"/>
<rect x="1036.4" y="300.1" width="30.1" height="16.2"/>
<rect x="1047.75" y="303.7" width="7.4" height="4" fill="#d3d9de" stroke-width="0.4"/>
<path d="M1044.05 310.5Q1051.45 311.7 1058.85 310.5"/>
<path d="M1044.05 310.5H1058.85"/>
<circle cx="1051.45" cy="311.7" r="1.6"/>
<use href="#tc" transform="translate(1051.45 294.9) rotate(90)"/>
<rect x="1036.4" y="317.3" width="30.1" height="16"/>
<rect x="1047.75" y="325.7" width="7.4" height="4" fill="#d3d9de" stroke-width="0.4"/>
<path d="M1044.05 322.9Q1051.45 321.7 1058.85 322.9"/>
<path d="M1044.05 322.9H1058.85"/>
<circle cx="1051.45" cy="321.7" r="1.6"/>
<use href="#tc" transform="translate(1051.45 338.5) rotate(-90)"/>
</g>
<g fill="none" stroke="#9eabb4" stroke-width="0.42">
<use href="#lc" transform="translate(990.8 141.8)"/>
<circle cx="990.8" cy="157.8" r="5.9"/>
<use href="#lc" transform="translate(990.8 173.6) rotate(180)"/>
<path d="M266.7 342.3H280.5V351.5H266.7ZM266.7 342.3L280.5 351.5M266.7 351.5L280.5 342.3"/>
<path d="M280.5 342.3H293V351.5H280.5ZM280.5 342.3L293 351.5M280.5 351.5L293 342.3"/>
<rect x="266.7" y="351.5" width="26.3" height="2.6" fill="#b6c0c8" stroke="none"/>
<path d="M909.9 340.2H866.2"/>
<rect x="951.4" y="267.5" width="22.8" height="9.1"/>
<path d="M959.12 272.4H966.48V275.76H959.12Z"/>
<path d="M959.72 272.4L960.88 270H964.72L965.88 272.4"/>
<path d="M960.24 274H965.36"/>
<rect x="974.2" y="267.5" width="23.1" height="9.1"/>
<rect x="978.4" y="270.5" width="15.5" height="3.9" fill="#d3d9de" stroke="none"/>
<path d="M978.4 270.5V274.4M980.34 270.5V274.4M982.28 270.5V274.4M984.21 270.5V274.4M986.15 270.5V274.4M988.09 270.5V274.4M990.02 270.5V274.4M991.96 270.5V274.4M993.9 270.5V274.4" stroke-width="0.55"/>
<rect x="997.3" y="267.5" width="22.9" height="9.1"/>
<rect x="1001.5" y="270.5" width="15.3" height="3.9" fill="#d3d9de" stroke="none"/>
<path d="M1001.5 270.5V274.4M1003.41 270.5V274.4M1005.33 270.5V274.4M1007.24 270.5V274.4M1009.15 270.5V274.4M1011.06 270.5V274.4M1012.98 270.5V274.4M1014.89 270.5V274.4M1016.8 270.5V274.4" stroke-width="0.55"/>
<rect x="1043" y="267.5" width="22.7" height="9.1"/>
<rect x="1047.2" y="270.5" width="15.1" height="3.9" fill="#d3d9de" stroke="none"/>
<path d="M1047.2 270.5V274.4M1049.36 270.5V274.4M1051.51 270.5V274.4M1053.67 270.5V274.4M1055.83 270.5V274.4M1057.99 270.5V274.4M1060.14 270.5V274.4M1062.3 270.5V274.4" stroke-width="0.55"/>
<rect x="882.4" y="342.2" width="8.2" height="11.4" stroke-width="0.5"/>
<path d="M881.6 342.4Q886.5 340 891.4 342.4L889.6 346.2H883.4Z" stroke-width="0.5"/>
<rect x="884.2" y="348" width="4.6" height="4.4" stroke-width="0.5"/>
<rect x="1001" y="25.6" width="1.8" height="196.6" fill="#c6d6df" stroke="none"/>
<rect x="1000.6" y="222.2" width="3" height="43" fill="#b6c0c8" stroke="none"/>
<rect x="1000.4" y="87.7" width="82.5" height="3.2" fill="#b6c0c8" stroke="none"/>
<rect x="1000.9" y="75.4" width="2.6" height="23.3" fill="#b6c0c8" stroke="none"/>
<rect x="1003.5" y="75.7" width="16.9" height="12"/>
<path d="M1005.4 85.6V79.4M1007.6 85.6L1009 78.6L1010.4 85.6M1012.2 85.6L1013.6 78.6L1015 85.6M1017 85.6V79.4M1005 82H1019" stroke-width="0.5"/>
<path d="M1003.5 90.9H1020.4V98.7H1003.5ZM1003.5 90.9L1020.4 98.7M1003.5 98.7L1020.4 90.9"/>
<rect x="1043" y="80.1" width="36" height="7.6"/>
<rect x="1053" y="83.1" width="17.5" height="2.4" fill="#d3d9de" stroke="none"/>
<path d="M1053 83.1V85.5M1054.94 83.1V85.5M1056.89 83.1V85.5M1058.83 83.1V85.5M1060.78 83.1V85.5M1062.72 83.1V85.5M1064.67 83.1V85.5M1066.61 83.1V85.5M1068.56 83.1V85.5M1070.5 83.1V85.5" stroke-width="0.55"/>
<rect x="1043" y="90.9" width="36" height="7.6"/>
<rect x="1053" y="93.9" width="17.5" height="2.4" fill="#d3d9de" stroke="none"/>
<path d="M1053 93.9V96.3M1054.94 93.9V96.3M1056.89 93.9V96.3M1058.83 93.9V96.3M1060.78 93.9V96.3M1062.72 93.9V96.3M1064.67 93.9V96.3M1066.61 93.9V96.3M1068.56 93.9V96.3M1070.5 93.9V96.3" stroke-width="0.55"/>
<use href="#tc" transform="translate(1035.1 32.6) rotate(-90) scale(0.95 0.86)"/>
<use href="#tc" transform="translate(1047.4 32.6) rotate(-90) scale(0.95 0.86)"/>
<use href="#tc" transform="translate(1060 32.6) rotate(-90) scale(0.95 0.86)"/>
<use href="#tc" transform="translate(1072.4 32.6) rotate(-90) scale(0.95 0.86)"/>
<path d="M1043.3 46.2H1078.7V70.6H1072.4V63.3H1043.3Z"/>
<path d="M1051 52H1065.6"/>
<circle cx="1058.3" cy="51.4" r="1.5"/>
<rect x="1054.6" y="56" width="7.4" height="3.8" fill="#d3d9de" stroke-width="0.4"/>
<use href="#tc" transform="translate(1058.3 70.3) rotate(-90)"/>
<path d="M1021 45.8A18.6 18.6 0 0 1 1002.4 64.4"/>
<path d="M1002.4 45.8L1021 45.8" stroke-width="1"/>
<ellipse cx="1044.2" cy="142" rx="13.6" ry="27.8"/>
<use href="#mc" transform="translate(1044.2 115) scale(0.95 0.95)"/>
<use href="#mc" transform="translate(1044.2 169) rotate(180) scale(0.95 0.95)"/>
<use href="#mc" transform="translate(1032.6 124.5) rotate(-74) scale(0.9)"/>
<use href="#mc" transform="translate(1055.8 124.5) rotate(74) scale(0.9)"/>
<use href="#mc" transform="translate(1030.8 142) rotate(-90) scale(0.9)"/>
<use href="#mc" transform="translate(1057.6 142) rotate(90) scale(0.9)"/>
<use href="#mc" transform="translate(1032.6 159.5) rotate(-106) scale(0.9)"/>
<use href="#mc" transform="translate(1055.8 159.5) rotate(106) scale(0.9)"/>
<path d="M1021 187.4A18.6 18.6 0 0 1 1002.4 206"/>
<path d="M1002.4 187.4L1021 187.4" stroke-width="1"/>
<rect x="1037.5" y="193.2" width="12.2" height="23.2"/>
<use href="#tc" transform="translate(1033.9 199.9) scale(0.7 0.62)"/>
<use href="#tc" transform="translate(1053.3 199.9) rotate(180) scale(0.7 0.62)"/>
<use href="#tc" transform="translate(1033.9 209.8) scale(0.7 0.62)"/>
<use href="#tc" transform="translate(1053.3 209.8) rotate(180) scale(0.7 0.62)"/>
<path d="M1027.3 216.4H1062.7V240.8H1056.1V232.5H1027.3Z"/>
<path d="M1034.6 222.4H1049.2"/>
<circle cx="1041.9" cy="221.8" r="1.5"/>
<rect x="1038.2" y="226.4" width="7.4" height="3.8" fill="#d3d9de" stroke-width="0.4"/>
<use href="#tc" transform="translate(1041.9 239.4) rotate(-90)"/>
<path d="M962.1 265V230.2H986.7V236H978.7V265"/>
<use href="#tc" transform="translate(987.4 250.4) rotate(180)"/>
<rect x="972.6" y="246.8" width="3.6" height="7.4" fill="#d3d9de" stroke-width="0.4"/>
<path d="M969 243.2V257.6"/>
<circle cx="967.8" cy="250.4" r="1.5"/>
<rect x="951.4" y="252.4" width="10.7" height="12.6"/>
<path d="M953.12 259H960.48V262.36H953.12Z"/>
<path d="M953.72 259L954.88 256.6H958.72L959.88 259"/>
<path d="M954.24 260.6H959.36"/>
<rect x="1003.6" y="254.2" width="16.6" height="10.8"/>
<path d="M1005.6 263V257.6M1007.8 263L1009.2 256.6L1010.6 263M1012.4 263L1013.8 256.6L1015.2 263M1017.2 263V257.6M1005 260H1019" stroke-width="0.5"/>
<rect x="1043" y="258.4" width="24.9" height="6.6"/>
<path d="M1056.6 258.4V265"/>
<path d="M1059.44 262.2H1064.96V264.72H1059.44Z"/>
<path d="M1060.04 262.2L1060.76 260.4H1063.64L1064.36 262.2"/>
<path d="M1060.28 263.4H1064.12"/>
</g>
<g fill="none" stroke="#9eabb4" stroke-width="0.42" transform="matrix(1 0 0 -1 0 712.8)">
<rect x="266.4" y="36.2" width="16.3" height="29.2"/>
<rect x="270.2" y="47.1" width="4.6" height="7.4" fill="#d3d9de" stroke-width="0.4"/>
<path d="M277.4 43.4Q278.6 50.8 277.4 58.2"/>
<path d="M277.4 43.4V58.2"/>
<circle cx="278.9" cy="50.8" r="1.6"/>
<use href="#tc" transform="translate(261.2 50.8)"/>
<rect x="284.3" y="36.2" width="15.4" height="29.2"/>
<rect x="291.3" y="47.1" width="4.6" height="7.4" fill="#d3d9de" stroke-width="0.4"/>
<path d="M288.7 43.4Q287.5 50.8 288.7 58.2"/>
<path d="M288.7 43.4V58.2"/>
<circle cx="287.2" cy="50.8" r="1.6"/>
<use href="#tc" transform="translate(304.9 50.8) rotate(180)"/>
<rect x="266.4" y="65.4" width="16.3" height="30"/>
<rect x="270.2" y="76.7" width="4.6" height="7.4" fill="#d3d9de" stroke-width="0.4"/>
<path d="M277.4 73Q278.6 80.4 277.4 87.8"/>
<path d="M277.4 73V87.8"/>
<circle cx="278.9" cy="80.4" r="1.6"/>
<use href="#tc" transform="translate(261.2 80.4)"/>
<rect x="284.3" y="65.4" width="15.4" height="30"/>
<rect x="291.3" y="76.7" width="4.6" height="7.4" fill="#d3d9de" stroke-width="0.4"/>
<path d="M288.7 73Q287.5 80.4 288.7 87.8"/>
<path d="M288.7 73V87.8"/>
<circle cx="287.2" cy="80.4" r="1.6"/>
<use href="#tc" transform="translate(304.9 80.4) rotate(180)"/>
<rect x="266.4" y="95.4" width="16.3" height="30.1"/>
<rect x="270.2" y="106.75" width="4.6" height="7.4" fill="#d3d9de" stroke-width="0.4"/>
<path d="M277.4 103.05Q278.6 110.45 277.4 117.85"/>
<path d="M277.4 103.05V117.85"/>
<circle cx="278.9" cy="110.45" r="1.6"/>
<use href="#tc" transform="translate(261.2 110.45)"/>
<rect x="284.3" y="95.4" width="15.4" height="30.1"/>
<rect x="291.3" y="106.75" width="4.6" height="7.4" fill="#d3d9de" stroke-width="0.4"/>
<path d="M288.7 103.05Q287.5 110.45 288.7 117.85"/>
<path d="M288.7 103.05V117.85"/>
<circle cx="287.2" cy="110.45" r="1.6"/>
<use href="#tc" transform="translate(304.9 110.45) rotate(180)"/>
<rect x="340.3" y="36.2" width="16.3" height="29.2"/>
<rect x="344.1" y="47.1" width="4.6" height="7.4" fill="#d3d9de" stroke-width="0.4"/>
<path d="M351.3 43.4Q352.5 50.8 351.3 58.2"/>
<path d="M351.3 43.4V58.2"/>
<circle cx="352.8" cy="50.8" r="1.6"/>
<use href="#tc" transform="translate(335.1 50.8)"/>
<rect x="358.2" y="36.2" width="15.4" height="29.2"/>
<rect x="365.2" y="47.1" width="4.6" height="7.4" fill="#d3d9de" stroke-width="0.4"/>
<path d="M362.6 43.4Q361.4 50.8 362.6 58.2"/>
<path d="M362.6 43.4V58.2"/>
<circle cx="361.1" cy="50.8" r="1.6"/>
<use href="#tc" transform="translate(378.8 50.8) rotate(180)"/>
<rect x="340.3" y="65.4" width="16.3" height="30"/>
<rect x="344.1" y="76.7" width="4.6" height="7.4" fill="#d3d9de" stroke-width="0.4"/>
<path d="M351.3 73Q352.5 80.4 351.3 87.8"/>
<path d="M351.3 73V87.8"/>
<circle cx="352.8" cy="80.4" r="1.6"/>
<use href="#tc" transform="translate(335.1 80.4)"/>
<rect x="358.2" y="65.4" width="15.4" height="30"/>
<rect x="365.2" y="76.7" width="4.6" height="7.4" fill="#d3d9de" stroke-width="0.4"/>
<path d="M362.6 73Q361.4 80.4 362.6 87.8"/>
<path d="M362.6 73V87.8"/>
<circle cx="361.1" cy="80.4" r="1.6"/>
<use href="#tc" transform="translate(378.8 80.4) rotate(180)"/>
<rect x="340.3" y="95.4" width="16.3" height="30.1"/>
<rect x="344.1" y="106.75" width="4.6" height="7.4" fill="#d3d9de" stroke-width="0.4"/>
<path d="M351.3 103.05Q352.5 110.45 351.3 117.85"/>
<path d="M351.3 103.05V117.85"/>
<circle cx="352.8" cy="110.45" r="1.6"/>
<use href="#tc" transform="translate(335.1 110.45)"/>
<rect x="358.2" y="95.4" width="15.4" height="30.1"/>
<rect x="365.2" y="106.75" width="4.6" height="7.4" fill="#d3d9de" stroke-width="0.4"/>
<path d="M362.6 103.05Q361.4 110.45 362.6 117.85"/>
<path d="M362.6 103.05V117.85"/>
<circle cx="361.1" cy="110.45" r="1.6"/>
<use href="#tc" transform="translate(378.8 110.45) rotate(180)"/>
<rect x="442.3" y="36.2" width="16.3" height="29.2"/>
<rect x="446.1" y="47.1" width="4.6" height="7.4" fill="#d3d9de" stroke-width="0.4"/>
<path d="M453.3 43.4Q454.5 50.8 453.3 58.2"/>
<path d="M453.3 43.4V58.2"/>
<circle cx="454.8" cy="50.8" r="1.6"/>
<use href="#tc" transform="translate(437.1 50.8)"/>
<rect x="460.2" y="36.2" width="15.4" height="29.2"/>
<rect x="467.2" y="47.1" width="4.6" height="7.4" fill="#d3d9de" stroke-width="0.4"/>
<path d="M464.6 43.4Q463.4 50.8 464.6 58.2"/>
<path d="M464.6 43.4V58.2"/>
<circle cx="463.1" cy="50.8" r="1.6"/>
<use href="#tc" transform="translate(480.8 50.8) rotate(180)"/>
<rect x="442.3" y="65.4" width="16.3" height="30"/>
<rect x="446.1" y="76.7" width="4.6" height="7.4" fill="#d3d9de" stroke-width="0.4"/>
<path d="M453.3 73Q454.5 80.4 453.3 87.8"/>
<path d="M453.3 73V87.8"/>
<circle cx="454.8" cy="80.4" r="1.6"/>
<use href="#tc" transform="translate(437.1 80.4)"/>
<rect x="460.2" y="65.4" width="15.4" height="30"/>
<rect x="467.2" y="76.7" width="4.6" height="7.4" fill="#d3d9de" stroke-width="0.4"/>
<path d="M464.6 73Q463.4 80.4 464.6 87.8"/>
<path d="M464.6 73V87.8"/>
<circle cx="463.1" cy="80.4" r="1.6"/>
<use href="#tc" transform="translate(480.8 80.4) rotate(180)"/>
<rect x="442.3" y="95.4" width="16.3" height="30.1"/>
<rect x="446.1" y="106.75" width="4.6" height="7.4" fill="#d3d9de" stroke-width="0.4"/>
<path d="M453.3 103.05Q454.5 110.45 453.3 117.85"/>
<path d="M453.3 103.05V117.85"/>
<circle cx="454.8" cy="110.45" r="1.6"/>
<use href="#tc" transform="translate(437.1 110.45)"/>
<rect x="460.2" y="95.4" width="15.4" height="30.1"/>
<rect x="467.2" y="106.75" width="4.6" height="7.4" fill="#d3d9de" stroke-width="0.4"/>
<path d="M464.6 103.05Q463.4 110.45 464.6 117.85"/>
<path d="M464.6 103.05V117.85"/>
<circle cx="463.1" cy="110.45" r="1.6"/>
<use href="#tc" transform="translate(480.8 110.45) rotate(180)"/>
<rect x="516.3" y="36.2" width="16.3" height="29.2"/>
<rect x="520.1" y="47.1" width="4.6" height="7.4" fill="#d3d9de" stroke-width="0.4"/>
<path d="M527.3 43.4Q528.5 50.8 527.3 58.2"/>
<path d="M527.3 43.4V58.2"/>
<circle cx="528.8" cy="50.8" r="1.6"/>
<use href="#tc" transform="translate(511.1 50.8)"/>
<rect x="534.2" y="36.2" width="15.4" height="29.2"/>
<rect x="541.2" y="47.1" width="4.6" height="7.4" fill="#d3d9de" stroke-width="0.4"/>
<path d="M538.6 43.4Q537.4 50.8 538.6 58.2"/>
<path d="M538.6 43.4V58.2"/>
<circle cx="537.1" cy="50.8" r="1.6"/>
<use href="#tc" transform="translate(554.8 50.8) rotate(180)"/>
<rect x="516.3" y="65.4" width="16.3" height="30"/>
<rect x="520.1" y="76.7" width="4.6" height="7.4" fill="#d3d9de" stroke-width="0.4"/>
<path d="M527.3 73Q528.5 80.4 527.3 87.8"/>
<path d="M527.3 73V87.8"/>
<circle cx="528.8" cy="80.4" r="1.6"/>
<use href="#tc" transform="translate(511.1 80.4)"/>
<rect x="534.2" y="65.4" width="15.4" height="30"/>
<rect x="541.2" y="76.7" width="4.6" height="7.4" fill="#d3d9de" stroke-width="0.4"/>
<path d="M538.6 73Q537.4 80.4 538.6 87.8"/>
<path d="M538.6 73V87.8"/>
<circle cx="537.1" cy="80.4" r="1.6"/>
<use href="#tc" transform="translate(554.8 80.4) rotate(180)"/>
<rect x="516.3" y="95.4" width="16.3" height="30.1"/>
<rect x="520.1" y="106.75" width="4.6" height="7.4" fill="#d3d9de" stroke-width="0.4"/>
<path d="M527.3 103.05Q528.5 110.45 527.3 117.85"/>
<path d="M527.3 103.05V117.85"/>
<circle cx="528.8" cy="110.45" r="1.6"/>
<use href="#tc" transform="translate(511.1 110.45)"/>
<rect x="534.2" y="95.4" width="15.4" height="30.1"/>
<rect x="541.2" y="106.75" width="4.6" height="7.4" fill="#d3d9de" stroke-width="0.4"/>
<path d="M538.6 103.05Q537.4 110.45 538.6 117.85"/>
<path d="M538.6 103.05V117.85"/>
<circle cx="537.1" cy="110.45" r="1.6"/>
<use href="#tc" transform="translate(554.8 110.45) rotate(180)"/>
<rect x="681.3" y="36.2" width="16.3" height="29.2"/>
<rect x="685.1" y="47.1" width="4.6" height="7.4" fill="#d3d9de" stroke-width="0.4"/>
<path d="M692.3 43.4Q693.5 50.8 692.3 58.2"/>
<path d="M692.3 43.4V58.2"/>
<circle cx="693.8" cy="50.8" r="1.6"/>
<use href="#tc" transform="translate(676.1 50.8)"/>
<rect x="699.2" y="36.2" width="15.4" height="29.2"/>
<rect x="706.2" y="47.1" width="4.6" height="7.4" fill="#d3d9de" stroke-width="0.4"/>
<path d="M703.6 43.4Q702.4 50.8 703.6 58.2"/>
<path d="M703.6 43.4V58.2"/>
<circle cx="702.1" cy="50.8" r="1.6"/>
<use href="#tc" transform="translate(719.8 50.8) rotate(180)"/>
<rect x="681.3" y="65.4" width="16.3" height="30"/>
<rect x="685.1" y="76.7" width="4.6" height="7.4" fill="#d3d9de" stroke-width="0.4"/>
<path d="M692.3 73Q693.5 80.4 692.3 87.8"/>
<path d="M692.3 73V87.8"/>
<circle cx="693.8" cy="80.4" r="1.6"/>
<use href="#tc" transform="translate(676.1 80.4)"/>
<rect x="699.2" y="65.4" width="15.4" height="30"/>
<rect x="706.2" y="76.7" width="4.6" height="7.4" fill="#d3d9de" stroke-width="0.4"/>
<path d="M703.6 73Q702.4 80.4 703.6 87.8"/>
<path d="M703.6 73V87.8"/>
<circle cx="702.1" cy="80.4" r="1.6"/>
<use href="#tc" transform="translate(719.8 80.4) rotate(180)"/>
<rect x="681.3" y="95.4" width="16.3" height="30.1"/>
<rect x="685.1" y="106.75" width="4.6" height="7.4" fill="#d3d9de" stroke-width="0.4"/>
<path d="M692.3 103.05Q693.5 110.45 692.3 117.85"/>
<path d="M692.3 103.05V117.85"/>
<circle cx="693.8" cy="110.45" r="1.6"/>
<use href="#tc" transform="translate(676.1 110.45)"/>
<rect x="699.2" y="95.4" width="15.4" height="30.1"/>
<rect x="706.2" y="106.75" width="4.6" height="7.4" fill="#d3d9de" stroke-width="0.4"/>
<path d="M703.6 103.05Q702.4 110.45 703.6 117.85"/>
<path d="M703.6 103.05V117.85"/>
<circle cx="702.1" cy="110.45" r="1.6"/>
<use href="#tc" transform="translate(719.8 110.45) rotate(180)"/>
<rect x="755.3" y="36.2" width="16.3" height="29.2"/>
<rect x="759.1" y="47.1" width="4.6" height="7.4" fill="#d3d9de" stroke-width="0.4"/>
<path d="M766.3 43.4Q767.5 50.8 766.3 58.2"/>
<path d="M766.3 43.4V58.2"/>
<circle cx="767.8" cy="50.8" r="1.6"/>
<use href="#tc" transform="translate(750.1 50.8)"/>
<rect x="773.2" y="36.2" width="15.4" height="29.2"/>
<rect x="780.2" y="47.1" width="4.6" height="7.4" fill="#d3d9de" stroke-width="0.4"/>
<path d="M777.6 43.4Q776.4 50.8 777.6 58.2"/>
<path d="M777.6 43.4V58.2"/>
<circle cx="776.1" cy="50.8" r="1.6"/>
<use href="#tc" transform="translate(793.8 50.8) rotate(180)"/>
<rect x="755.3" y="65.4" width="16.3" height="30"/>
<rect x="759.1" y="76.7" width="4.6" height="7.4" fill="#d3d9de" stroke-width="0.4"/>
<path d="M766.3 73Q767.5 80.4 766.3 87.8"/>
<path d="M766.3 73V87.8"/>
<circle cx="767.8" cy="80.4" r="1.6"/>
<use href="#tc" transform="translate(750.1 80.4)"/>
<rect x="773.2" y="65.4" width="15.4" height="30"/>
<rect x="780.2" y="76.7" width="4.6" height="7.4" fill="#d3d9de" stroke-width="0.4"/>
<path d="M777.6 73Q776.4 80.4 777.6 87.8"/>
<path d="M777.6 73V87.8"/>
<circle cx="776.1" cy="80.4" r="1.6"/>
<use href="#tc" transform="translate(793.8 80.4) rotate(180)"/>
<rect x="755.3" y="95.4" width="16.3" height="30.1"/>
<rect x="759.1" y="106.75" width="4.6" height="7.4" fill="#d3d9de" stroke-width="0.4"/>
<path d="M766.3 103.05Q767.5 110.45 766.3 117.85"/>
<path d="M766.3 103.05V117.85"/>
<circle cx="767.8" cy="110.45" r="1.6"/>
<use href="#tc" transform="translate(750.1 110.45)"/>
<rect x="773.2" y="95.4" width="15.4" height="30.1"/>
<rect x="780.2" y="106.75" width="4.6" height="7.4" fill="#d3d9de" stroke-width="0.4"/>
<path d="M777.6 103.05Q776.4 110.45 777.6 117.85"/>
<path d="M777.6 103.05V117.85"/>
<circle cx="776.1" cy="110.45" r="1.6"/>
<use href="#tc" transform="translate(793.8 110.45) rotate(180)"/>
<rect x="860.4" y="36.2" width="16.3" height="29.2"/>
<rect x="864.2" y="47.1" width="4.6" height="7.4" fill="#d3d9de" stroke-width="0.4"/>
<path d="M871.4 43.4Q872.6 50.8 871.4 58.2"/>
<path d="M871.4 43.4V58.2"/>
<circle cx="872.9" cy="50.8" r="1.6"/>
<use href="#tc" transform="translate(855.2 50.8)"/>
<rect x="878.3" y="36.2" width="15.4" height="29.2"/>
<rect x="885.3" y="47.1" width="4.6" height="7.4" fill="#d3d9de" stroke-width="0.4"/>
<path d="M882.7 43.4Q881.5 50.8 882.7 58.2"/>
<path d="M882.7 43.4V58.2"/>
<circle cx="881.2" cy="50.8" r="1.6"/>
<use href="#tc" transform="translate(898.9 50.8) rotate(180)"/>
<rect x="860.4" y="65.4" width="16.3" height="30"/>
<rect x="864.2" y="76.7" width="4.6" height="7.4" fill="#d3d9de" stroke-width="0.4"/>
<path d="M871.4 73Q872.6 80.4 871.4 87.8"/>
<path d="M871.4 73V87.8"/>
<circle cx="872.9" cy="80.4" r="1.6"/>
<use href="#tc" transform="translate(855.2 80.4)"/>
<rect x="878.3" y="65.4" width="15.4" height="30"/>
<rect x="885.3" y="76.7" width="4.6" height="7.4" fill="#d3d9de" stroke-width="0.4"/>
<path d="M882.7 73Q881.5 80.4 882.7 87.8"/>
<path d="M882.7 73V87.8"/>
<circle cx="881.2" cy="80.4" r="1.6"/>
<use href="#tc" transform="translate(898.9 80.4) rotate(180)"/>
<rect x="860.4" y="95.4" width="16.3" height="30.1"/>
<rect x="864.2" y="106.75" width="4.6" height="7.4" fill="#d3d9de" stroke-width="0.4"/>
<path d="M871.4 103.05Q872.6 110.45 871.4 117.85"/>
<path d="M871.4 103.05V117.85"/>
<circle cx="872.9" cy="110.45" r="1.6"/>
<use href="#tc" transform="translate(855.2 110.45)"/>
<rect x="878.3" y="95.4" width="15.4" height="30.1"/>
<rect x="885.3" y="106.75" width="4.6" height="7.4" fill="#d3d9de" stroke-width="0.4"/>
<path d="M882.7 103.05Q881.5 110.45 882.7 117.85"/>
<path d="M882.7 103.05V117.85"/>
<circle cx="881.2" cy="110.45" r="1.6"/>
<use href="#tc" transform="translate(898.9 110.45) rotate(180)"/>
<rect x="929.2" y="36.2" width="16.3" height="29.2"/>
<rect x="933" y="47.1" width="4.6" height="7.4" fill="#d3d9de" stroke-width="0.4"/>
<path d="M940.2 43.4Q941.4 50.8 940.2 58.2"/>
<path d="M940.2 43.4V58.2"/>
<circle cx="941.7" cy="50.8" r="1.6"/>
<use href="#tc" transform="translate(924 50.8)"/>
<rect x="947.1" y="36.2" width="15.4" height="29.2"/>
<rect x="954.1" y="47.1" width="4.6" height="7.4" fill="#d3d9de" stroke-width="0.4"/>
<path d="M951.5 43.4Q950.3 50.8 951.5 58.2"/>
<path d="M951.5 43.4V58.2"/>
<circle cx="950" cy="50.8" r="1.6"/>
<use href="#tc" transform="translate(967.7 50.8) rotate(180)"/>
<rect x="929.2" y="65.4" width="16.3" height="30"/>
<rect x="933" y="76.7" width="4.6" height="7.4" fill="#d3d9de" stroke-width="0.4"/>
<path d="M940.2 73Q941.4 80.4 940.2 87.8"/>
<path d="M940.2 73V87.8"/>
<circle cx="941.7" cy="80.4" r="1.6"/>
<use href="#tc" transform="translate(924 80.4)"/>
<rect x="947.1" y="65.4" width="15.4" height="30"/>
<rect x="954.1" y="76.7" width="4.6" height="7.4" fill="#d3d9de" stroke-width="0.4"/>
<path d="M951.5 73Q950.3 80.4 951.5 87.8"/>
<path d="M951.5 73V87.8"/>
<circle cx="950" cy="80.4" r="1.6"/>
<use href="#tc" transform="translate(967.7 80.4) rotate(180)"/>
<rect x="929.2" y="95.4" width="16.3" height="30.1"/>
<rect x="933" y="106.75" width="4.6" height="7.4" fill="#d3d9de" stroke-width="0.4"/>
<path d="M940.2 103.05Q941.4 110.45 940.2 117.85"/>
<path d="M940.2 103.05V117.85"/>
<circle cx="941.7" cy="110.45" r="1.6"/>
<use href="#tc" transform="translate(924 110.45)"/>
<rect x="947.1" y="95.4" width="15.4" height="30.1"/>
<rect x="954.1" y="106.75" width="4.6" height="7.4" fill="#d3d9de" stroke-width="0.4"/>
<path d="M951.5 103.05Q950.3 110.45 951.5 117.85"/>
<path d="M951.5 103.05V117.85"/>
<circle cx="950" cy="110.45" r="1.6"/>
<use href="#tc" transform="translate(967.7 110.45) rotate(180)"/>
<path d="M399.4 36.1H416.6V38.9H402.1V79.6H399.4Z" fill="#b6c0c8" stroke="none"/>
<path d="M402.1 38.9H416.6V59.3H402.1ZM402.1 38.9L416.6 59.3M402.1 59.3L416.6 38.9"/>
<path d="M402.1 59.3H416.6V79.6H402.1ZM402.1 59.3L416.6 79.6M402.1 79.6L416.6 59.3"/>
<path d="M416.6 125.1H399.4V122.4H413.9V98.8H416.6Z" fill="#b6c0c8" stroke="none"/>
<path d="M399.4 98.8H413.9V122.4H399.4ZM399.4 98.8L413.9 122.4M399.4 122.4L413.9 98.8"/>
<path d="M832.3 36.1H815.2V38.9H829.6V79.6H832.3Z" fill="#b6c0c8" stroke="none"/>
<path d="M815.2 38.9H829.6V59.3H815.2ZM815.2 38.9L829.6 59.3M815.2 59.3L829.6 38.9"/>
<path d="M815.2 59.3H829.6V79.6H815.2ZM815.2 59.3L829.6 79.6M815.2 79.6L829.6 59.3"/>
<path d="M815.2 125.1H832.3V122.4H817.9V98.8H815.2Z" fill="#b6c0c8" stroke="none"/>
<path d="M817.9 98.8H832.3V122.4H817.9ZM817.9 98.8L832.3 122.4M817.9 122.4L832.3 98.8"/>
<rect x="588.4" y="65.5" width="15.9" height="29.8"/>
<rect x="592.2" y="76.7" width="4.6" height="7.4" fill="#d3d9de" stroke-width="0.4"/>
<path d="M599.4 73Q600.6 80.4 599.4 87.8"/>
<path d="M599.4 73V87.8"/>
<circle cx="600.9" cy="80.4" r="1.6"/>
<use href="#tc" transform="translate(583.2 80.4)"/>
<rect x="627.5" y="65.5" width="16.2" height="29.8"/>
<rect x="635.3" y="76.7" width="4.6" height="7.4" fill="#d3d9de" stroke-width="0.4"/>
<path d="M632.7 73Q631.5 80.4 632.7 87.8"/>
<path d="M632.7 73V87.8"/>
<circle cx="631.2" cy="80.4" r="1.6"/>
<use href="#tc" transform="translate(648.9 80.4) rotate(180)"/>
<rect x="588.4" y="95.3" width="15.9" height="30.1"/>
<rect x="592.2" y="106.65" width="4.6" height="7.4" fill="#d3d9de" stroke-width="0.4"/>
<path d="M599.4 102.95Q600.6 110.35 599.4 117.75"/>
<path d="M599.4 102.95V117.75"/>
<circle cx="600.9" cy="110.35" r="1.6"/>
<use href="#tc" transform="translate(583.2 110.35)"/>
<rect x="627.5" y="95.3" width="16.2" height="30.1"/>
<rect x="635.3" y="106.65" width="4.6" height="7.4" fill="#d3d9de" stroke-width="0.4"/>
<path d="M632.7 102.95Q631.5 110.35 632.7 117.75"/>
<path d="M632.7 102.95V117.75"/>
<circle cx="631.2" cy="110.35" r="1.6"/>
<use href="#tc" transform="translate(648.9 110.35) rotate(180)"/>
<path d="M604.3 65.5H627.5V79.6H604.3ZM604.3 65.5L627.5 79.6M604.3 79.6L627.5 65.5"/>
<rect x="604.3" y="98.8" width="23.2" height="11.5"/>
<path d="M611.3 104.6H620.5V108.8H611.3Z"/>
<path d="M611.9 104.6L613.5 101.6H618.3L619.9 104.6"/>
<path d="M612.7 106.6H619.1"/>
<use href="#lc" transform="translate(597.1 48.6) rotate(-90)"/>
<circle cx="615.9" cy="49.7" r="5.9"/>
<use href="#lc" transform="translate(634.5 48.6) rotate(90)"/>
<circle cx="210.1" cy="61.7" r="6"/>
<use href="#lc" transform="translate(208.4 43.2)"/>
<use href="#lc" transform="translate(190.7 60.4) rotate(-90)"/>
<use href="#lc" transform="translate(228.4 60.4) rotate(90)"/>
<circle cx="171.4" cy="91.8" r="6"/>
<use href="#lc" transform="translate(170.4 72.7)"/>
<use href="#lc" transform="translate(152.7 92.2) rotate(-90)"/>
<use href="#lc" transform="translate(170.4 110.4) rotate(180)"/>
<rect x="136.8" y="147.1" width="96" height="2.5" fill="#b6c0c8" stroke="none"/>
<rect x="230.4" y="125" width="2.4" height="24.6" fill="#b6c0c8" stroke="none"/>
<rect x="136.8" y="206.7" width="96" height="2.6" fill="#b6c0c8" stroke="none"/>
<rect x="136.8" y="266.2" width="93.7" height="2.8" fill="#b6c0c8" stroke="none"/>
<rect x="230.5" y="257.8" width="3.7" height="23.8" fill="#b6c0c8" stroke="none"/>
<rect x="230.7" y="149.6" width="1.9" height="108.2" fill="#c6d6df" stroke="none"/>
<path d="M144.2 137.3H162.3V147.1H144.2ZM144.2 137.3L162.3 147.1M144.2 147.1L162.3 137.3"/>
<path d="M162.3 137.3H181.2V147.1H162.3ZM162.3 137.3L181.2 147.1M162.3 147.1L181.2 137.3"/>
<rect x="181.2" y="135.1" width="16.5" height="12"/>
<path d="M185.26 141.6H193.54V145.38H185.26Z"/>
<path d="M185.86 141.6L187.24 138.9H191.56L192.94 141.6"/>
<path d="M186.52 143.4H192.28"/>
<path d="M197.7 137.3H214.1V147.1H197.7ZM197.7 137.3L214.1 147.1M197.7 147.1L214.1 137.3"/>
<rect x="214.1" y="135.1" width="16.3" height="12"/>
<path d="M218.06 141.6H226.34V145.38H218.06Z"/>
<path d="M218.66 141.6L220.04 138.9H224.36L225.74 141.6"/>
<path d="M219.32 143.4H225.08"/>
<rect x="153.1" y="169.2" width="53.8" height="17.5"/>
<use href="#mc" transform="translate(162.5 169.2)"/>
<use href="#mc" transform="translate(162.5 186.7) rotate(180)"/>
<use href="#mc" transform="translate(180.2 169.2)"/>
<use href="#mc" transform="translate(180.2 186.7) rotate(180)"/>
<use href="#mc" transform="translate(197.4 169.2)"/>
<use href="#mc" transform="translate(197.4 186.7) rotate(180)"/>
<path d="M213.8 204.3A17.8 17.8 0 0 1 231.6 186.5"/>
<path d="M231.6 204.3L213.8 204.3" stroke-width="1"/>
<path d="M213.8 211.6A17.8 17.8 0 0 0 231.6 229.4"/>
<path d="M231.6 211.6L213.8 211.6" stroke-width="1"/>
<path d="M160.4 209.3V238H152.2V243.7H176.8V209.3"/>
<use href="#tc" transform="translate(152.2 223.8)"/>
<rect x="163" y="220.2" width="3.6" height="7.4" fill="#d3d9de" stroke-width="0.4"/>
<path d="M170 216.6V231"/>
<circle cx="171.4" cy="223.8" r="1.5"/>
<use href="#tc" transform="translate(184 216.4) rotate(90)"/>
<use href="#tc" transform="translate(196.7 216.4) rotate(90)"/>
<path d="M143.3 260.1H158.5V266.2H143.3ZM143.3 260.1L158.5 266.2M143.3 266.2L158.5 260.1"/>
<path d="M158.5 260.1H173.4V266.2H158.5ZM158.5 260.1L173.4 266.2M158.5 266.2L173.4 260.1"/>
<path d="M173.4 260.1H188.9V266.2H173.4ZM173.4 260.1L188.9 266.2M173.4 266.2L188.9 260.1"/>
<rect x="211.6" y="258.2" width="18.9" height="8"/>
<path d="M213.5 262.2L215 259.4L216.5 262.2M218 262.2L219.5 259.4L221 262.2M222.5 262.2L224 259.4L225.5 262.2M227 262.2L228.3 259.4M213 263.6H229" stroke-width="0.5"/>
<rect x="143.3" y="269" width="87.2" height="12.3"/>
<path d="M147 281.3V286.4Q147 288.8 149.4 288.8H154.4Q156.8 288.8 156.8 286.4V281.3"/>
<path d="M147.9 287.2H155.9"/>
<path d="M163.1 281.3V286.4Q163.1 288.8 165.5 288.8H170.5Q172.9 288.8 172.9 286.4V281.3"/>
<path d="M164 287.2H172"/>
<path d="M180.1 281.3V286.4Q180.1 288.8 182.5 288.8H187.5Q189.9 288.8 189.9 286.4V281.3"/>
<path d="M181 287.2H189"/>
<path d="M214.3 281.3V286.4Q214.3 288.8 216.7 288.8H221.7Q224.1 288.8 224.1 286.4V281.3"/>
<path d="M215.2 287.2H223.2"/>
<circle cx="191" cy="309.6" r="8.6"/>
<use href="#cc" transform="translate(191 309.6) rotate(45) translate(0 -11.2)"/>
<use href="#cc" transform="translate(191 309.6) rotate(135) translate(0 -11.2)"/>
<use href="#cc" transform="translate(191 309.6) rotate(225) translate(0 -11.2)"/>
<use href="#cc" transform="translate(191 309.6) rotate(315) translate(0 -11.2)"/>
<circle cx="162.9" cy="337" r="8.6"/>
<use href="#cc" transform="translate(162.9 337) rotate(45) translate(0 -11.2)"/>
<use href="#cc" transform="translate(162.9 337) rotate(135) translate(0 -11.2)"/>
<use href="#cc" transform="translate(162.9 337) rotate(225) translate(0 -11.2)"/>
<use href="#cc" transform="translate(162.9 337) rotate(315) translate(0 -11.2)"/>
<circle cx="217.5" cy="337" r="8.6"/>
<use href="#cc" transform="translate(217.5 337) rotate(45) translate(0 -11.2)"/>
<use href="#cc" transform="translate(217.5 337) rotate(135) translate(0 -11.2)"/>
<use href="#cc" transform="translate(217.5 337) rotate(225) translate(0 -11.2)"/>
<use href="#cc" transform="translate(217.5 337) rotate(315) translate(0 -11.2)"/>
<path d="M234.3 263.2A17.2 17.2 0 0 1 251.5 280.4"/>
<rect x="264" y="280.4" width="2.7" height="73.7" fill="#b6c0c8" stroke="none"/>
<rect x="251.6" y="280.4" width="15.1" height="2.2" fill="#b6c0c8" stroke="none"/>
<path d="M252 282.6V354.1"/>
<rect x="254.2" y="300.3" width="9.2" height="8.9"/>
<path d="M260.4 304.7H263.4M261.6 303V306.4"/>
<rect x="254" y="315" width="9.6" height="7.4" stroke-width="0.5"/>
<path d="M255 317H262.6M255 319H262.6M255 321H262.6M257.5 315V322.4M260 315V322.4" stroke-width="0.5"/>
<path d="M252 328.2H264M252 341.4H264"/>
<path d="M254.8 335.1H261.8M258.3 331.6V338.6M255.8 332.6L260.8 337.6M255.8 337.6L260.8 332.6" stroke-width="0.5"/>
<path d="M254.8 348.1H261.8M258.3 344.6V351.6M255.8 345.6L260.8 350.6M255.8 350.6L260.8 345.6" stroke-width="0.5"/>
<path d="M272.7 150.9H354.2M272.7 207.4H354.2" stroke="#c6d6df" stroke-width="1.4"/>
<path d="M273 151.55H272.5A10 10 0 0 0 262.45 161.6V196.7A10 10 0 0 0 272.5 206.75H273" stroke="#b6c0c8" stroke-width="2.7"/>
<rect x="306.2" y="150.2" width="2.9" height="57.9" fill="#b6c0c8" stroke="none"/>
<circle cx="282.8" cy="171.3" r="10.1"/>
<use href="#pc" transform="translate(282.8 171.3) rotate(0) translate(0 -9.5)"/>
<use href="#pc" transform="translate(282.8 171.3) rotate(90) translate(0 -9.5)"/>
<use href="#pc" transform="translate(282.8 171.3) rotate(180) translate(0 -9.5)"/>
<use href="#pc" transform="translate(282.8 171.3) rotate(270) translate(0 -9.5)"/>
<circle cx="332.1" cy="171.3" r="10.1"/>
<use href="#pc" transform="translate(332.1 171.3) rotate(0) translate(0 -9.5)"/>
<use href="#pc" transform="translate(332.1 171.3) rotate(90) translate(0 -9.5)"/>
<use href="#pc" transform="translate(332.1 171.3) rotate(180) translate(0 -9.5)"/>
<use href="#pc" transform="translate(332.1 171.3) rotate(270) translate(0 -9.5)"/>
<path d="M304 189.4A17.8 17.8 0 0 0 286.2 207.2"/>
<path d="M304 207.2L304 189.4" stroke-width="1"/>
<path d="M302.6 189.4V207.2"/>
<path d="M311.6 189.4A17.8 17.8 0 0 1 329.4 207.2"/>
<path d="M311.6 207.2L311.6 189.4" stroke-width="1"/>
<path d="M313 189.4V207.2"/>
<path d="M354.2 150.2H401.9V208.1H392.8V205.8H399.1V153H357.1V205.8H374.4V208.1H354.2Z" fill="#b6c0c8" stroke="none"/>
<rect x="357.1" y="153" width="42" height="12.3"/>
<path d="M378.2 153V165.3"/>
<path d="M361.8 158.4H375.3M361.8 160.4H375.3" stroke-width="0.9"/>
<path d="M359.8 158V158.8M359.8 160V160.8" stroke-width="0.6"/>
<path d="M382.8 158.4H396.3M382.8 160.4H396.3" stroke-width="0.9"/>
<path d="M380.8 158V158.8M380.8 160V160.8" stroke-width="0.6"/>
<rect x="357.1" y="172.3" width="11.7" height="22.1" rx="1.2"/>
<path d="M361.4 175.5V189.6M363.2 175.5V189.6M365 175.5V189.6" stroke-width="0.7"/>
<path d="M392.4 187.2A18.2 18.2 0 0 0 374.2 205.4"/>
<path d="M392.4 205.4L392.4 187.2" stroke-width="1"/>
<path d="M437.6 150.8H531.8V208.1H462.3V205.5H529V153.6H440.5V205.5H444.2V208.1H437.6Z" fill="#b6c0c8" stroke="none"/>
<path d="M440.5 165.6H529M440.5 159.3H529"/>
<path d="M444 155.4V163.4M446.2 155.4V163.4M448.4 155.4V163.4M450.6 155.4V163.4M452.8 155.4V163.4M442.4 159.3L444 157.6" stroke-width="0.6"/>
<rect x="517.3" y="165.6" width="11.7" height="27.8"/>
<path d="M523.4 165.6V193.4"/>
<path d="M518.6 170H528M519 172H527.6M519 174.2H527.6M519 176.4H527.6M519 178.6H527.6" stroke-width="0.7"/>
<path d="M467.4 205.5V193.4H517.3M467.4 199.5H529"/>
<path d="M471 195.4V203.6M473.2 195.4V203.6M475.4 195.4V203.6M477.6 195.4V203.6M479.8 195.4V203.6" stroke-width="0.6"/>
<path d="M444.4 187.2A18 18 0 0 1 462.4 205.2"/>
<path d="M444.4 205.2L444.4 187.2" stroke-width="1"/>
<rect x="532.5" y="157.5" width="17.4" height="45.1"/>
<rect x="536.5" y="161.5" width="13.4" height="36.7"/>
<path d="M536.5 173.3H549.9M536.5 185.6H549.9M532.5 157.5L536.5 161.5M532.5 202.6L536.5 198.2"/>
<circle cx="559" cy="183.4" r="5.2"/>
<circle cx="559" cy="177.6" r="5.8" fill="#ecf0f3"/>
<rect x="583" y="150.8" width="66.1" height="2.5" fill="#b6c0c8" stroke="none"/>
<path d="M582.1 167V193.8H651V167H648.4V189.4H584V167Z"/>
<path d="M584 177.4H648.4"/>
<use href="#tc" transform="translate(600.4 168.6) rotate(90)"/>
<rect x="597" y="178.8" width="6.8" height="3.8" fill="#d3d9de" stroke-width="0.4"/>
<path d="M593.2 186H607.6"/>
<circle cx="600.4" cy="186.6" r="1.5"/>
<use href="#tc" transform="translate(633.9 168.6) rotate(90)"/>
<rect x="630.5" y="178.8" width="6.8" height="3.8" fill="#d3d9de" stroke-width="0.4"/>
<path d="M626.7 186H641.1"/>
<circle cx="633.9" cy="186.6" r="1.5"/>
<rect x="684.2" y="157.5" width="17.4" height="45.1"/>
<rect x="684.2" y="161.5" width="13.5" height="36.7"/>
<path d="M684.2 173.3H697.7M684.2 185.6H697.7M701.6 157.5L697.7 161.5M701.6 202.6L697.7 198.2"/>
<circle cx="675.9" cy="183.4" r="5.2"/>
<circle cx="675.9" cy="177.6" r="5.8" fill="#ecf0f3"/>
<path d="M704.9 150.9H806M704.9 207.4H806" stroke="#c6d6df" stroke-width="1.4"/>
<rect x="702" y="150.2" width="2.9" height="57.9" fill="#b6c0c8" stroke="none"/>
<rect x="749.1" y="150.2" width="2.8" height="57.9" fill="#b6c0c8" stroke="none"/>
<rect x="806" y="150.2" width="3" height="57.9" fill="#b6c0c8" stroke="none"/>
<circle cx="727.2" cy="171.3" r="10.1"/>
<use href="#pc" transform="translate(727.2 171.3) rotate(0) translate(0 -9.5)"/>
<use href="#pc" transform="translate(727.2 171.3) rotate(90) translate(0 -9.5)"/>
<use href="#pc" transform="translate(727.2 171.3) rotate(180) translate(0 -9.5)"/>
<use href="#pc" transform="translate(727.2 171.3) rotate(270) translate(0 -9.5)"/>
<circle cx="784.1" cy="171.3" r="10.1"/>
<use href="#pc" transform="translate(784.1 171.3) rotate(0) translate(0 -9.5)"/>
<use href="#pc" transform="translate(784.1 171.3) rotate(90) translate(0 -9.5)"/>
<use href="#pc" transform="translate(784.1 171.3) rotate(180) translate(0 -9.5)"/>
<use href="#pc" transform="translate(784.1 171.3) rotate(270) translate(0 -9.5)"/>
<path d="M746.4 188.8A18.4 18.4 0 0 0 728 207.2"/>
<path d="M746.4 207.2L746.4 188.8" stroke-width="1"/>
<path d="M745 189V207.2"/>
<path d="M754.2 188.8A18.4 18.4 0 0 1 772.6 207.2"/>
<path d="M754.2 207.2L754.2 188.8" stroke-width="1"/>
<path d="M755.6 189V207.2"/>
<path d="M852 150.9H922.5M852 207.4H922.5" stroke="#c6d6df" stroke-width="1.4"/>
<path d="M922 151.55H922.4A10 10 0 0 1 931.45 161.6V196.7A10 10 0 0 1 922.4 206.75H922" stroke="#b6c0c8" stroke-width="2.7"/>
<rect x="841.1" y="150.2" width="11" height="57.9" fill="#b6c0c8" stroke="none"/>
<rect x="843" y="153.2" width="7" height="52" fill="#ecf0f3" stroke="none"/>
<rect x="844.4" y="155" width="4.4" height="21.6" stroke-width="0.5"/>
<rect x="844.4" y="181.4" width="4.4" height="22" stroke-width="0.5"/>
<rect x="845" y="156.4" width="3.2" height="5" fill="#c9d0d6" stroke="none"/>
<rect x="845" y="163.4" width="3.2" height="5" fill="#c9d0d6" stroke="none"/>
<rect x="845" y="170.4" width="3.2" height="5" fill="#c9d0d6" stroke="none"/>
<rect x="845" y="182.8" width="3.2" height="5" fill="#c9d0d6" stroke="none"/>
<rect x="845" y="189.8" width="3.2" height="5" fill="#c9d0d6" stroke="none"/>
<rect x="845" y="196.8" width="3.2" height="5" fill="#c9d0d6" stroke="none"/>
<rect x="865.4" y="169.4" width="52.5" height="17"/>
<use href="#mc" transform="translate(875.2 169.4)"/>
<use href="#mc" transform="translate(875.2 186.4) rotate(180)"/>
<use href="#mc" transform="translate(892.1 169.4)"/>
<use href="#mc" transform="translate(892.1 186.4) rotate(180)"/>
<use href="#mc" transform="translate(908.8 169.4)"/>
<use href="#mc" transform="translate(908.8 186.4) rotate(180)"/>
<path d="M854.3 189A18.2 18.2 0 0 1 872.5 207.2"/>
<path d="M854.3 207.2L854.3 189" stroke-width="1"/>
<use href="#lc" transform="translate(943.1 162.9)"/>
<circle cx="943.1" cy="178.6" r="5.9"/>
<use href="#lc" transform="translate(943.1 195) rotate(180)"/>
<rect x="311.2" y="236.3" width="2.2" height="10.7" fill="#b6c0c8" stroke="none"/>
<rect x="480.6" y="236.3" width="2.3" height="10.7" fill="#b6c0c8" stroke="none"/>
<rect x="313.4" y="236.3" width="27.9" height="10.7"/>
<rect x="317.6" y="239.3" width="20.3" height="5.5" fill="#d3d9de" stroke="none"/>
<path d="M317.6 239.3V244.8M319.63 239.3V244.8M321.66 239.3V244.8M323.69 239.3V244.8M325.72 239.3V244.8M327.75 239.3V244.8M329.78 239.3V244.8M331.81 239.3V244.8M333.84 239.3V244.8M335.87 239.3V244.8M337.9 239.3V244.8" stroke-width="0.55"/>
<rect x="341.3" y="236.3" width="28.1" height="10.7"/>
<rect x="345.5" y="239.3" width="20.5" height="5.5" fill="#d3d9de" stroke="none"/>
<path d="M345.5 239.3V244.8M347.55 239.3V244.8M349.6 239.3V244.8M351.65 239.3V244.8M353.7 239.3V244.8M355.75 239.3V244.8M357.8 239.3V244.8M359.85 239.3V244.8M361.9 239.3V244.8M363.95 239.3V244.8M366 239.3V244.8" stroke-width="0.55"/>
<rect x="369.4" y="236.3" width="27.9" height="10.7"/>
<rect x="373.6" y="239.3" width="20.3" height="5.5" fill="#d3d9de" stroke="none"/>
<path d="M373.6 239.3V244.8M375.63 239.3V244.8M377.66 239.3V244.8M379.69 239.3V244.8M381.72 239.3V244.8M383.75 239.3V244.8M385.78 239.3V244.8M387.81 239.3V244.8M389.84 239.3V244.8M391.87 239.3V244.8M393.9 239.3V244.8" stroke-width="0.55"/>
<rect x="397.3" y="236.3" width="28" height="10.7"/>
<rect x="401.5" y="239.3" width="20.4" height="5.5" fill="#d3d9de" stroke="none"/>
<path d="M401.5 239.3V244.8M403.54 239.3V244.8M405.58 239.3V244.8M407.62 239.3V244.8M409.66 239.3V244.8M411.7 239.3V244.8M413.74 239.3V244.8M415.78 239.3V244.8M417.82 239.3V244.8M419.86 239.3V244.8M421.9 239.3V244.8" stroke-width="0.55"/>
<rect x="425.3" y="236.3" width="27.9" height="10.7"/>
<rect x="429.5" y="239.3" width="20.3" height="5.5" fill="#d3d9de" stroke="none"/>
<path d="M429.5 239.3V244.8M431.53 239.3V244.8M433.56 239.3V244.8M435.59 239.3V244.8M437.62 239.3V244.8M439.65 239.3V244.8M441.68 239.3V244.8M443.71 239.3V244.8M445.74 239.3V244.8M447.77 239.3V244.8M449.8 239.3V244.8" stroke-width="0.55"/>
<rect x="453.2" y="236.3" width="27.4" height="10.7"/>
<rect x="457.4" y="239.3" width="19.8" height="5.5" fill="#d3d9de" stroke="none"/>
<path d="M457.4 239.3V244.8M459.38 239.3V244.8M461.36 239.3V244.8M463.34 239.3V244.8M465.32 239.3V244.8M467.3 239.3V244.8M469.28 239.3V244.8M471.26 239.3V244.8M473.24 239.3V244.8M475.22 239.3V244.8M477.2 239.3V244.8" stroke-width="0.55"/>
<use href="#lc" transform="translate(549.6 237.8) rotate(-90)"/>
<circle cx="568.9" cy="239.2" r="5.9"/>
<use href="#lc" transform="translate(587.5 237.8) rotate(90)"/>
<rect x="906.9" y="265" width="15.4" height="2.5" fill="#b6c0c8" stroke="none"/>
<rect x="941.1" y="265" width="146.1" height="2.5" fill="#b6c0c8" stroke="none"/>
<path d="M922.6 247A18.6 18.6 0 0 1 941.2 265.6"/>
<path d="M922.6 265.6L922.6 247" stroke-width="1"/>
<rect x="906.7" y="267.5" width="1.6" height="48.5" fill="#c6d6df" stroke="none"/>
<rect x="906.9" y="316" width="3" height="38.1" fill="#b6c0c8" stroke="none"/>
<rect x="925.3" y="293.5" width="12.5" height="22.9"/>
<use href="#tc" transform="translate(921.6 299.8) scale(0.7 0.62)"/>
<use href="#tc" transform="translate(941.4 299.8) rotate(180) scale(0.7 0.62)"/>
<use href="#tc" transform="translate(921.6 310.1) scale(0.7 0.62)"/>
<use href="#tc" transform="translate(941.4 310.1) rotate(180) scale(0.7 0.62)"/>
<path d="M909.9 316.4H944.7V332.5H915.7V340.2H909.9"/>
<use href="#tc" transform="translate(929.4 340.2) rotate(-90)"/>
<rect x="926" y="326.2" width="7.4" height="3.8" fill="#d3d9de" stroke-width="0.4"/>
<path d="M922.2 322H936.6"/>
<circle cx="929.4" cy="321.4" r="1.5"/>
<rect x="976.2" y="300.1" width="30.1" height="16.2"/>
<rect x="987.55" y="303.7" width="7.4" height="4" fill="#d3d9de" stroke-width="0.4"/>
<path d="M983.85 310.5Q991.25 311.7 998.65 310.5"/>
<path d="M983.85 310.5H998.65"/>
<circle cx="991.25" cy="311.7" r="1.6"/>
<use href="#tc" transform="translate(991.25 294.9) rotate(90)"/>
<rect x="976.2" y="317.3" width="30.1" height="16"/>
<rect x="987.55" y="325.7" width="7.4" height="4" fill="#d3d9de" stroke-width="0.4"/>
<path d="M983.85 322.9Q991.25 321.7 998.65 322.9"/>
<path d="M983.85 322.9H998.65"/>
<circle cx="991.25" cy="321.7" r="1.6"/>
<use href="#tc" transform="translate(991.25 338.5) rotate(-90)"/>
<rect x="1006.3" y="300.1" width="30.1" height="16.2"/>
<rect x="1017.65" y="303.7" width="7.4" height="4" fill="#d3d9de" stroke-width="0.4"/>
<path d="M1013.95 310.5Q1021.35 311.7 1028.75 310.5"/>
<path d="M1013.95 310.5H1028.75"/>
<circle cx="1021.35" cy="311.7" r="1.6"/>
<use href="#tc" transform="translate(1021.35 294.9) rotate(90)"/>
<rect x="1006.3" y="317.3" width="30.1" height="16"/>
<rect x="1017.65" y="325.7" width="7.4" height="4" fill="#d3d9de" stroke-width="0.4"/>
<path d="M1013.95 322.9Q1021.35 321.7 1028.75 322.9"/>
<path d="M1013.95 322.9H1028.75"/>
<circle cx="1021.35" cy="321.7" r="1.6"/>
<use href="#tc" transform="translate(1021.35 338.5) rotate(-90)"/>
<rect x="1036.4" y="300.1" width="30.1" height="16.2"/>
<rect x="1047.75" y="303.7" width="7.4" height="4" fill="#d3d9de" stroke-width="0.4"/>
<path d="M1044.05 310.5Q1051.45 311.7 1058.85 310.5"/>
<path d="M1044.05 310.5H1058.85"/>
<circle cx="1051.45" cy="311.7" r="1.6"/>
<use href="#tc" transform="translate(1051.45 294.9) rotate(90)"/>
<rect x="1036.4" y="317.3" width="30.1" height="16"/>
<rect x="1047.75" y="325.7" width="7.4" height="4" fill="#d3d9de" stroke-width="0.4"/>
<path d="M1044.05 322.9Q1051.45 321.7 1058.85 322.9"/>
<path d="M1044.05 322.9H1058.85"/>
<circle cx="1051.45" cy="321.7" r="1.6"/>
<use href="#tc" transform="translate(1051.45 338.5) rotate(-90)"/>
</g>
<g fill="none" stroke="#9eabb4" stroke-width="0.42" transform="matrix(1 0 0 -1 0 712.8)">
</g>
<g fill="none" stroke="#9eabb4" stroke-width="0.42">
<rect x="951.4" y="436.2" width="22.8" height="9.1"/>
<path d="M959.12 440.4H966.48V437.04H959.12Z"/>
<path d="M959.72 440.4L960.88 442.8H964.72L965.88 440.4"/>
<path d="M960.24 438.8H965.36"/>
<rect x="974.2" y="436.2" width="23.1" height="9.1"/>
<rect x="978.4" y="439.2" width="15.5" height="3.9" fill="#d3d9de" stroke="none"/>
<path d="M978.4 439.2V443.1M980.34 439.2V443.1M982.28 439.2V443.1M984.21 439.2V443.1M986.15 439.2V443.1M988.09 439.2V443.1M990.02 439.2V443.1M991.96 439.2V443.1M993.9 439.2V443.1" stroke-width="0.55"/>
<rect x="997.3" y="436.2" width="23.1" height="9.1"/>
<rect x="1001.5" y="439.2" width="15.5" height="3.9" fill="#d3d9de" stroke="none"/>
<path d="M1001.5 439.2V443.1M1003.44 439.2V443.1M1005.38 439.2V443.1M1007.31 439.2V443.1M1009.25 439.2V443.1M1011.19 439.2V443.1M1013.12 439.2V443.1M1015.06 439.2V443.1M1017 439.2V443.1" stroke-width="0.55"/>
<rect x="1043" y="436.2" width="11.6" height="9.1"/>
<rect x="1054.6" y="436.2" width="23.2" height="9.1"/>
<rect x="1058.8" y="439.2" width="15.6" height="3.9" fill="#d3d9de" stroke="none"/>
<path d="M1058.8 439.2V443.1M1060.75 439.2V443.1M1062.7 439.2V443.1M1064.65 439.2V443.1M1066.6 439.2V443.1M1068.55 439.2V443.1M1070.5 439.2V443.1M1072.45 439.2V443.1M1074.4 439.2V443.1" stroke-width="0.55"/>
<rect x="1054.6" y="447.8" width="23.2" height="9.6"/>
<rect x="1058.8" y="450.8" width="15.6" height="4.4" fill="#d3d9de" stroke="none"/>
<path d="M1058.8 450.8V455.2M1060.75 450.8V455.2M1062.7 450.8V455.2M1064.65 450.8V455.2M1066.6 450.8V455.2M1068.55 450.8V455.2M1070.5 450.8V455.2M1072.45 450.8V455.2M1074.4 450.8V455.2" stroke-width="0.55"/>
<rect x="1043" y="447.8" width="11.6" height="9.6"/>
<path d="M1046.04 452H1051.56V449.48H1046.04Z"/>
<path d="M1046.64 452L1047.36 453.8H1050.24L1050.96 452"/>
<path d="M1046.88 450.8H1050.72"/>
<rect x="997.8" y="447.8" width="22.4" height="12"/>
<path d="M1000.4 449.8V455.4M1003 449.8L1004.4 456.8L1005.8 449.8M1008 449.8L1009.4 456.8L1010.8 449.8M1013 449.8L1014.4 456.8L1015.8 449.8M1018 449.8V455.4M999.6 452.8H1019" stroke-width="0.5"/>
<rect x="995" y="447.8" width="2.8" height="41.9" fill="#b6c0c8" stroke="none"/>
<rect x="996.2" y="489.7" width="1.8" height="197.5" fill="#c6d6df" stroke="none"/>
<rect x="947.2" y="448.2" width="10.6" height="12.4"/>
<path d="M948.82 454.2H956.18V450.84H948.82Z"/>
<path d="M949.42 454.2L950.58 456.6H954.42L955.58 454.2"/>
<path d="M949.94 452.6H955.06"/>
<path d="M958.5 447.8V482.8H981.7V476.1H974.2V447.8"/>
<use href="#tc" transform="translate(982.4 462.4) rotate(180)"/>
<rect x="968" y="458.6" width="3.6" height="7.4" fill="#d3d9de" stroke-width="0.4"/>
<path d="M964.4 455.2V469.6"/>
<circle cx="963.2" cy="462.4" r="1.5"/>
<path d="M1026.3 480.6H1055V472.3H1061.6V496.7H1026.3Z"/>
<use href="#tc" transform="translate(1041.5 473.4) rotate(90)"/>
<rect x="1037.8" y="482.6" width="7.4" height="3.8" fill="#d3d9de" stroke-width="0.4"/>
<path d="M1034.2 490.6H1048.8"/>
<circle cx="1041.5" cy="491.2" r="1.5"/>
<rect x="1037.5" y="496.7" width="12.2" height="22.9"/>
<use href="#tc" transform="translate(1033.9 502.9) scale(0.7 0.62)"/>
<use href="#tc" transform="translate(1053.3 502.9) rotate(180) scale(0.7 0.62)"/>
<use href="#tc" transform="translate(1033.9 513) scale(0.7 0.62)"/>
<use href="#tc" transform="translate(1053.3 513) rotate(180) scale(0.7 0.62)"/>
<path d="M1015.2 543A18 18 0 0 0 997.2 525"/>
<path d="M997.2 543L1015.2 543" stroke-width="1"/>
<ellipse cx="1044.2" cy="564.5" rx="13.6" ry="27.2"/>
<use href="#mc" transform="translate(1044.2 538.1) scale(0.95 0.95)"/>
<use href="#mc" transform="translate(1044.2 590.9) rotate(180) scale(0.95 0.95)"/>
<use href="#mc" transform="translate(1032.6 547) rotate(-74) scale(0.9)"/>
<use href="#mc" transform="translate(1055.8 547) rotate(74) scale(0.9)"/>
<use href="#mc" transform="translate(1030.8 564.5) rotate(-90) scale(0.9)"/>
<use href="#mc" transform="translate(1057.6 564.5) rotate(90) scale(0.9)"/>
<use href="#mc" transform="translate(1032.6 582) rotate(-106) scale(0.9)"/>
<use href="#mc" transform="translate(1055.8 582) rotate(106) scale(0.9)"/>
<rect x="995.3" y="622.1" width="92.1" height="2.9" fill="#b6c0c8" stroke="none"/>
<rect x="995.3" y="613.9" width="2.4" height="23.5" fill="#b6c0c8" stroke="none"/>
<path d="M997.7 613.9H1020.2V622.1H997.7ZM997.7 613.9L1020.2 622.1M997.7 622.1L1020.2 613.9"/>
<path d="M997.7 625H1020.2V633.7H997.7ZM997.7 625L1020.2 633.7M997.7 633.7L1020.2 625"/>
<path d="M1043.1 613.9H1062.7V622.1H1043.1ZM1043.1 613.9L1062.7 622.1M1043.1 622.1L1062.7 613.9"/>
<path d="M1043.1 625H1062.7V633.7H1043.1ZM1043.1 625L1062.7 633.7M1043.1 633.7L1062.7 625"/>
<path d="M1062.7 613.9H1082.4V622.1H1062.7ZM1062.7 613.9L1082.4 622.1M1062.7 622.1L1082.4 613.9"/>
<path d="M1062.7 625H1082.4V633.7H1062.7ZM1062.7 625L1082.4 633.7M1062.7 633.7L1082.4 625"/>
<path d="M1015.8 639.4A18.6 18.6 0 0 1 997.2 658"/>
<path d="M997.2 639.4L1015.8 639.4" stroke-width="1"/>
<rect x="1022.4" y="653.3" width="52.3" height="17.1"/>
<use href="#mc" transform="translate(1031.7 653.3)"/>
<use href="#mc" transform="translate(1031.7 670.4) rotate(180)"/>
<use href="#mc" transform="translate(1048.4 653.3)"/>
<use href="#mc" transform="translate(1048.4 670.4) rotate(180)"/>
<use href="#mc" transform="translate(1065.5 653.3)"/>
<use href="#mc" transform="translate(1065.5 670.4) rotate(180)"/>
</g>
<rect x="136.6" y="354.1" width="156.4" height="3.8" fill="#d1d5d8"/>
<rect x="866" y="354.1" width="221.2" height="3.8" fill="#d1d5d8"/>
<rect x="189.2" y="79.6" width="22.3" height="19.2" fill="#18303b"/>
<rect x="189.2" y="614" width="22.3" height="19.2" fill="#18303b"/>
<rect x="397" y="79.6" width="22.2" height="19.2" fill="#18303b"/>
<rect x="397" y="614" width="22.2" height="19.2" fill="#18303b"/>
<rect x="604" y="79.2" width="22.8" height="19.6" fill="#18303b"/>
<rect x="604" y="614" width="22.8" height="19.6" fill="#18303b"/>
<rect x="813" y="79.6" width="22.2" height="19.2" fill="#18303b"/>
<rect x="813" y="614" width="22.2" height="19.2" fill="#18303b"/>
<rect x="1020.4" y="79.6" width="22.6" height="19.2" fill="#18303b"/>
<rect x="1020.4" y="614" width="22.6" height="19.2" fill="#18303b"/>
<rect x="188.9" y="257.6" width="22.7" height="19.3" fill="#18303b"/>
<rect x="188.9" y="435.9" width="22.7" height="19.3" fill="#18303b"/>
<rect x="1020.2" y="257" width="22.8" height="19.6" fill="#18303b"/>
<rect x="1020.2" y="436.2" width="22.8" height="19.6" fill="#18303b"/>
<rect x="433.6" y="247" width="277.1" height="218.6" fill="#ffffff"/>
<rect x="710.7" y="303" width="151.4" height="38.2" fill="#ffffff"/>
<rect x="802.7" y="298.6" width="59.4" height="5.4" fill="#ffffff"/>
<rect x="830" y="341" width="32.1" height="17.4" fill="#ffffff"/>
<rect x="710.7" y="307" width="62.6" height="143" fill="#ffffff"/>
<rect x="293" y="354.1" width="108.3" height="3.8" fill="#d1d5d8"/>
<rect x="401.3" y="247" width="32.7" height="218.5" fill="#18303b"/>
<rect x="405" y="256.7" width="23.2" height="199.1" fill="#c5ccd3"/>
<rect x="433.7" y="249.2" width="63.4" height="11.8" fill="#c5ccd3"/>
<rect x="433.7" y="436.2" width="63.4" height="27.3" fill="#c5ccd3"/>
<rect x="710.7" y="249.4" width="87.8" height="54" fill="#c5ccd3"/>
<rect x="779" y="346.6" width="49.4" height="109.2" fill="#c5ccd3"/>
<rect x="711" y="453.9" width="62.9" height="9.6" fill="#c5ccd3"/>
<g stroke="#93a2aa" stroke-width="0.75" fill="none">
<path d="M433.7 300.7H462M467.7 300.7H497.1M433.7 307.1H462M467.7 307.1H497.1M433.7 313.5H462M467.7 313.5H497.1M433.7 319.9H462M467.7 319.9H497.1M433.7 326.3H462M467.7 326.3H497.1M433.7 332.7H462M467.7 332.7H497.1M433.7 339.1H462M467.7 339.1H497.1M433.7 345.5H462M467.7 345.5H497.1M433.7 351.9H462M467.7 351.9H497.1M433.7 358.3H462M467.7 358.3H497.1M433.7 364.7H462M467.7 364.7H497.1M433.7 371.1H462M467.7 371.1H497.1M433.7 377.6H467.7M467.7 294H497.1"/>
<path d="M462 377.6V294H467.7V377.6" stroke="#7f9098"/>
<path d="M448.3 304.2V372.4M446.9 305.6L448.3 303.8L449.7 305.6" stroke-width="0.55"/>
<circle cx="448.3" cy="373.8" r="1.3" stroke-width="0.55"/>
<path d="M482.5 299V366.6M481.1 365.2L482.5 367L483.9 365.2" stroke-width="0.55"/>
<circle cx="482.5" cy="297.6" r="1.3" stroke-width="0.55"/>
<path d="M710.7 336.5H739.5M710.7 342.91H739.5M744.8 342.91H773.3M710.7 349.32H739.5M744.8 349.32H773.3M710.7 355.73H739.5M744.8 355.73H773.3M710.7 362.14H739.5M744.8 362.14H773.3M710.7 368.55H739.5M744.8 368.55H773.3M710.7 374.96H739.5M744.8 374.96H773.3M710.7 381.37H739.5M744.8 381.37H773.3M710.7 387.78H739.5M744.8 387.78H773.3M710.7 394.19H739.5M744.8 394.19H773.3M710.7 400.6H739.5M744.8 400.6H773.3M710.7 407.01H739.5M744.8 407.01H773.3M710.7 413.42H739.5M744.8 413.42H773.3M739.5 419.4H773.3"/>
<path d="M739.5 419.4V336.2H744.8V419.4" stroke="#7f9098"/>
<path d="M724.8 341.8V408.6M723.4 407.2L724.8 409L726.2 407.2" stroke-width="0.55"/>
<circle cx="724.8" cy="340.3" r="1.3" stroke-width="0.55"/>
<path d="M759.4 347.6V415M758 349L759.4 347.2L760.8 349" stroke-width="0.55"/>
<rect x="758.1" y="415.1" width="2.6" height="2.6" stroke-width="0.55"/>
</g>
<path d="M293 247H401.5V249.2H293ZM293 247H296V251.7H293ZM293 270.1H296V291.6H293ZM293 334H296V354.1H293ZM293 357.9H296V361H293ZM293 378.9H296V425.7H293ZM293 445H296V464.8H293ZM319.1 249H321.7V291.6H319.1ZM293 288.1H321.7V291.6H293ZM321.7 271H333V272.9H321.7ZM293 311.5H401.5V315H293ZM296 403H401.5V405H296ZM293 463.1H401.5V464.9H293ZM366 249H368.1V252.7H366ZM366 268.9H368.1V272.9H366ZM366 289.1H368.1V315.7H366ZM366 332.8H368.1V336.8H366ZM366 352.4H368.1V354.1H366ZM366 357.9H368.1V361.2H366ZM366 377H368.1V384H366ZM366 400H368.1V407.8H366ZM366 425.2H368.1V431.8H366ZM366 448H368.1V463.2H366ZM366 270.1H401.5V272.3H366ZM366 333.8H401.5V335.9H366ZM366 378.9H401.5V380.8H366ZM366 425.7H401.5V428H366ZM336 452H337.8V463.2H336ZM401.3 247H504V249.2H401.3ZM433.6 260.9H497.1V265.3H433.6ZM497.1 247H501.2V398.7H497.1ZM497.1 428.6H501.2V465.6H497.1ZM501.2 249H504V251.4H501.2ZM433.6 432H497.1V436.2H433.6ZM401.3 463.4H503.7V465.6H401.3ZM501.2 460.4H503.7V465.6H501.2ZM535.2 247H539.9V465.6H535.2ZM533.2 247H589.5V252.7H533.2ZM533.2 460.2H589.5V465.6H533.2ZM589.5 247H604.9V249.2H589.5ZM589.5 463.6H604.9V465.6H589.5ZM533.2 247H535.2V251.2H533.2ZM539.9 296.9H583.1V302H539.9ZM663.7 296.9H706.3V302H663.7ZM539.9 362.8H583.1V366.9H539.9ZM663.7 362.8H706.3V366.9H663.7ZM539.9 411.3H583.1V416H539.9ZM663.7 411.3H706.3V416H663.7ZM583.1 247H589.5V263H583.1ZM657.1 247H663.7V263H657.1ZM583.1 286.6H589.5V317.5H583.1ZM657.1 286.6H663.7V317.5H657.1ZM583.1 347H589.5V377.6H583.1ZM657.1 347H663.7V377.6H657.1ZM583.1 401.2H589.5V426.5H583.1ZM657.1 401.2H663.7V426.5H657.1ZM583.1 450.1H589.5V465.6H583.1ZM657.1 450.1H663.7V465.6H657.1ZM657.1 247H710.7V252.7H657.1ZM641.9 247H657.1V249.2H641.9ZM657.1 460.2H710.7V465.6H657.1ZM641.9 463.6H657.1V465.6H641.9ZM706.3 247H710.7V465.6H706.3ZM710.7 247H838.4V249.5H710.7ZM772.9 247.5H832.4V256.6H772.9ZM797.9 256.6H802.7V307.7H797.9ZM710.7 303.3H802.7V307.7H710.7ZM773.3 307.7H779V309.9H773.3ZM863.9 247.1H866.2V300.6H863.9ZM859 247.1H866.2V249.5H859ZM802.7 293.9H866.2V298.7H802.7ZM861.1 298.7H866.2V300.6H861.1ZM773 339H779V465.6H773ZM710.7 449.2H773.3V453.9H710.7ZM706.3 463.4H871V465.6H706.3ZM779 341H830.2V346.7H779ZM828.3 341H830.2V465.6H828.3ZM829.3 345H832.1V358.8H829.3ZM773 455.8H830.2V465.6H773ZM860.3 329.8H865.9V358.8H860.3ZM830.2 387.8H871V390.3H830.2ZM830.2 436.2H868.3V438.7H830.2ZM868.3 387.8H871V394.5H868.3ZM868.3 415.6H871V441.6H868.3ZM868.3 458H871V465.6H868.3Z" fill="#18303b"/>
<rect x="486.7" y="457.3" width="10.6" height="6.3" fill="#18303b"/>
<rect x="488.3" y="458.9" width="7.9" height="4.5" fill="#b9c1c9"/>
<rect x="544.1" y="259.4" width="37.8" height="30.6" fill="none" stroke="#6f828b" stroke-width="0.7"/>
<path d="M544.1 260.8H581.9" stroke="#6f828b" stroke-width="0.5"/>
<rect x="552.7" y="264.3" width="20.8" height="21.3" fill="none" stroke="#aab6bd" stroke-width="0.7"/>
<path d="M544.1 259.4L552.7 264.3M581.9 259.4L573.5 264.3M544.1 290L552.7 285.6M581.9 290L573.5 285.6" stroke="#6f828b" stroke-width="0.7"/>
<use href="#eli" transform="translate(563 274.85)"/>
<rect x="664.6" y="259.4" width="37.9" height="30.6" fill="none" stroke="#6f828b" stroke-width="0.7"/>
<path d="M664.6 260.8H702.5" stroke="#6f828b" stroke-width="0.5"/>
<rect x="673" y="264.3" width="21" height="21.3" fill="none" stroke="#aab6bd" stroke-width="0.7"/>
<path d="M664.6 259.4L673 264.3M702.5 259.4L694 264.3M664.6 290L673 285.6M702.5 290L694 285.6" stroke="#6f828b" stroke-width="0.7"/>
<use href="#eli" transform="translate(683.4 274.85)"/>
<rect x="544.1" y="313.2" width="37.8" height="38.5" fill="none" stroke="#6f828b" stroke-width="0.7"/>
<path d="M544.1 314.6H581.9" stroke="#6f828b" stroke-width="0.5"/>
<rect x="552.7" y="322" width="20.8" height="20.6" fill="none" stroke="#aab6bd" stroke-width="0.7"/>
<path d="M544.1 313.2L552.7 322M581.9 313.2L573.5 322M544.1 351.7L552.7 342.6M581.9 351.7L573.5 342.6" stroke="#6f828b" stroke-width="0.7"/>
<use href="#eli" transform="translate(563 332.2)"/>
<rect x="664.6" y="313.2" width="37.9" height="38.5" fill="none" stroke="#6f828b" stroke-width="0.7"/>
<path d="M664.6 314.6H702.5" stroke="#6f828b" stroke-width="0.5"/>
<rect x="673" y="322" width="21" height="20.6" fill="none" stroke="#aab6bd" stroke-width="0.7"/>
<path d="M664.6 313.2L673 322M702.5 313.2L694 322M664.6 351.7L673 342.6M702.5 351.7L694 342.6" stroke="#6f828b" stroke-width="0.7"/>
<use href="#eli" transform="translate(683.4 332.2)"/>
<rect x="544.1" y="374.2" width="37.8" height="30.4" fill="none" stroke="#6f828b" stroke-width="0.7"/>
<path d="M544.1 375.6H581.9" stroke="#6f828b" stroke-width="0.5"/>
<rect x="552.7" y="378.9" width="20.8" height="20.6" fill="none" stroke="#aab6bd" stroke-width="0.7"/>
<path d="M544.1 374.2L552.7 378.9M581.9 374.2L573.5 378.9M544.1 404.6L552.7 399.5M581.9 404.6L573.5 399.5" stroke="#6f828b" stroke-width="0.7"/>
<use href="#eli" transform="translate(563 389.1)"/>
<rect x="664.6" y="374.2" width="37.9" height="30.4" fill="none" stroke="#6f828b" stroke-width="0.7"/>
<path d="M664.6 375.6H702.5" stroke="#6f828b" stroke-width="0.5"/>
<rect x="673" y="378.9" width="21" height="20.6" fill="none" stroke="#aab6bd" stroke-width="0.7"/>
<path d="M664.6 374.2L673 378.9M702.5 374.2L694 378.9M664.6 404.6L673 399.5M702.5 404.6L694 399.5" stroke="#6f828b" stroke-width="0.7"/>
<use href="#eli" transform="translate(683.4 389.1)"/>
<rect x="544.1" y="422.9" width="37.8" height="31" fill="none" stroke="#6f828b" stroke-width="0.7"/>
<path d="M544.1 424.3H581.9" stroke="#6f828b" stroke-width="0.5"/>
<rect x="552.7" y="428.6" width="20.8" height="20.2" fill="none" stroke="#aab6bd" stroke-width="0.7"/>
<path d="M544.1 422.9L552.7 428.6M581.9 422.9L573.5 428.6M544.1 453.9L552.7 448.8M581.9 453.9L573.5 448.8" stroke="#6f828b" stroke-width="0.7"/>
<use href="#eli" transform="translate(563 438.6)"/>
<rect x="664.6" y="422.9" width="37.9" height="31" fill="none" stroke="#6f828b" stroke-width="0.7"/>
<path d="M664.6 424.3H702.5" stroke="#6f828b" stroke-width="0.5"/>
<rect x="673" y="428.6" width="21" height="20.2" fill="none" stroke="#aab6bd" stroke-width="0.7"/>
<path d="M664.6 422.9L673 428.6M702.5 422.9L694 428.6M664.6 453.9L673 448.8M702.5 453.9L694 448.8" stroke="#6f828b" stroke-width="0.7"/>
<use href="#eli" transform="translate(683.4 438.6)"/>
<path d="M583.6 263V286.6M585 263V286.6M583.6 274.8H585" fill="none" stroke="#9aa8b0" stroke-width="0.6"/>
<rect x="662" y="263" width="2.1" height="23.6" fill="#8f9ca4"/>
<path d="M583.6 317.5V347M585 317.5V347M583.6 332.25H585" fill="none" stroke="#9aa8b0" stroke-width="0.6"/>
<rect x="662" y="317.5" width="2.1" height="29.5" fill="#8f9ca4"/>
<path d="M583.6 377.6V401.2M585 377.6V401.2M583.6 389.4H585" fill="none" stroke="#9aa8b0" stroke-width="0.6"/>
<rect x="662" y="377.6" width="2.1" height="23.6" fill="#8f9ca4"/>
<path d="M583.6 426.5V450.1M585 426.5V450.1M583.6 438.3H585" fill="none" stroke="#9aa8b0" stroke-width="0.6"/>
<rect x="662" y="426.5" width="2.1" height="23.6" fill="#8f9ca4"/>
<g stroke="#a7b3ba" stroke-width="0.6" fill="none">
<path d="M504.3 249.2V261M533.2 249.2V272.6" stroke="#6f828b" stroke-width="0.9"/>
<path d="M504.3 261A11.8 11.8 0 0 0 513.6 251.4M513.6 251.4A24 24 0 0 0 533.2 272.6"/>
<path d="M504.3 463.4V450.8M533.2 463.4V439.2" stroke="#6f828b" stroke-width="0.9"/>
<path d="M504.3 450.8A12.6 12.6 0 0 1 513.4 461M513.4 461A24.2 24.2 0 0 1 533.2 439.2"/>
<path d="M604.9 249.2V268.9M641.6 249.2V268.9" stroke="#6f828b" stroke-width="0.9"/>
<path d="M604.9 268.9A19.7 19.7 0 0 0 623.6 251M641.6 268.9A19.7 19.7 0 0 1 623.6 251"/>
<path d="M604.9 463.6V444.2M641.6 463.6V444.2" stroke="#6f828b" stroke-width="0.9"/>
<path d="M604.9 444.2A19.4 19.4 0 0 1 623.6 461.6M641.6 444.2A19.4 19.4 0 0 0 623.6 461.6"/>
<path d="M488.3 399H497.1M475.9 428.3H497.1" stroke="#6f828b" stroke-width="1"/>
<path d="M488.3 399.4A8.6 8.6 0 0 0 496.8 407.4M496.8 407.4A21.2 21.2 0 0 0 475.9 428"/>
<path d="M841.2 300.9H861M853.3 329.6H860.3" stroke="#6f828b" stroke-width="1"/>
<path d="M841.2 301.2A19.8 19.8 0 0 0 861.4 321M853.3 329.4A8.4 8.4 0 0 1 861.4 321"/>
<path d="M831.6 345.4V353.8" stroke="#6f828b" stroke-width="1"/>
<path d="M832 345.4A8.6 8.6 0 0 1 839.6 353.4M839.6 353.4A20.6 20.6 0 0 1 859.8 333.4"/>
</g>
<g stroke="#a9b4bc" stroke-width="0.6" fill="none">
<use href="#wc" transform="translate(401.3 261)"/>
<use href="#wc" transform="translate(401.3 299.6)"/>
<use href="#wc" transform="translate(401.3 324.9)"/>
<use href="#wc" transform="translate(401.3 345.1)"/>
<use href="#wc" transform="translate(401.3 369.4)"/>
<use href="#wc" transform="translate(401.3 392.3)"/>
<use href="#wc" transform="translate(401.3 416.4)"/>
<use href="#wc" transform="translate(401.3 451)"/>
<path d="M321.7 259.2H326Q329.8 259.2 329.8 263Q329.8 266.8 326 266.8H321.7M321.7 276.2H326Q329.8 276.2 329.8 280Q329.8 283.8 326 283.8H321.7" stroke-width="1"/>
<rect x="324.4" y="262.2" width="1.6" height="1.6" fill="#a9b4bc" stroke="none"/>
<rect x="324.4" y="279.2" width="1.6" height="1.6" fill="#a9b4bc" stroke="none"/>
<rect x="300" y="274.8" width="18.8" height="13.3"/>
<path d="M314.4 281.4H318.8" stroke="#7c8b93" stroke-width="0.8"/>
<rect x="296" y="341" width="45.9" height="13.1"/>
<rect x="308.4" y="343.5" width="13.3" height="8.2" rx="1.2" stroke="#a9b4bc" stroke-width="1"/>
<path d="M315.05 347.3V352.5" stroke="#7c8b93" stroke-width="1"/>
<rect x="326.3" y="343.5" width="13.7" height="8.2" rx="1.2" stroke="#a9b4bc" stroke-width="1"/>
<path d="M333.15 347.3V352.5" stroke="#7c8b93" stroke-width="1"/>
<rect x="296" y="390.3" width="45.9" height="12.7"/>
<rect x="308.4" y="393.2" width="13.3" height="8.2" rx="1.2" stroke="#a9b4bc" stroke-width="1"/>
<path d="M315.05 397V402.2" stroke="#7c8b93" stroke-width="1"/>
<rect x="326.3" y="393.2" width="13.7" height="8.2" rx="1.2" stroke="#a9b4bc" stroke-width="1"/>
<path d="M333.15 397V402.2" stroke="#7c8b93" stroke-width="1"/>
<rect x="296" y="405" width="45.9" height="14.4"/>
<rect x="308.4" y="408.4" width="13.3" height="8.2" rx="1.2" stroke="#a9b4bc" stroke-width="1"/>
<path d="M315.05 407.6V412.8" stroke="#7c8b93" stroke-width="1"/>
<rect x="326.3" y="408.4" width="13.7" height="8.2" rx="1.2" stroke="#a9b4bc" stroke-width="1"/>
<path d="M333.15 407.6V412.8" stroke="#7c8b93" stroke-width="1"/>
<rect x="355.2" y="295" width="10.6" height="16.5"/>
<rect x="357.6" y="299.4" width="7" height="9.2" rx="1" stroke-width="1"/>
<path d="M362 304H365.4" stroke="#7c8b93" stroke-width="0.8"/>
<path d="M324.6 463.1V458.6A3.4 3.4 0 0 1 331.4 458.6V463.1" stroke-width="0.9"/>
<path d="M328 462V459.8L329.2 461.2Z" stroke-width="0.5"/>
<path d="M341.6 463.1V458.6A3.4 3.4 0 0 1 348.4 458.6V463.1" stroke-width="0.9"/>
<path d="M345 462V459.8L346.2 461.2Z" stroke-width="0.5"/>
<path d="M314.9 252.4A18.9 18.9 0 0 1 296 271.3"/>
<path d="M296 252.4H314.9" stroke="#9aa6ae" stroke-width="1.5"/>
<path d="M314.9 293.4A18.9 18.9 0 0 1 296 312.3"/>
<path d="M296 293.4H314.9" stroke="#9aa6ae" stroke-width="1.5"/>
<path d="M314.9 316.6A18.9 18.9 0 0 1 296 335.5"/>
<path d="M296 316.6H314.9" stroke="#9aa6ae" stroke-width="1.5"/>
<path d="M314.9 360.6A18.9 18.9 0 0 1 296 379.5"/>
<path d="M296 360.6H314.9" stroke="#9aa6ae" stroke-width="1.5"/>
<path d="M314.9 445.2A18.9 18.9 0 0 0 296 426.3"/>
<path d="M296 445.2H314.9" stroke="#9aa6ae" stroke-width="1.5"/>
<path d="M385 252.8A16.9 16.9 0 0 1 368.1 269.7"/>
<path d="M368.1 252.8H385" stroke="#9aa6ae" stroke-width="1.5"/>
<path d="M385 273A16.9 16.9 0 0 1 368.1 289.9"/>
<path d="M368.1 273H385" stroke="#9aa6ae" stroke-width="1.5"/>
<path d="M385 332.6A16.9 16.9 0 0 0 368.1 315.7"/>
<path d="M368.1 332.6H385" stroke="#9aa6ae" stroke-width="1.5"/>
<path d="M385 352.2A16.9 16.9 0 0 0 368.1 335.3"/>
<path d="M368.1 352.2H385" stroke="#9aa6ae" stroke-width="1.5"/>
<path d="M385 361.4A16.9 16.9 0 0 1 368.1 378.3"/>
<path d="M368.1 361.4H385" stroke="#9aa6ae" stroke-width="1.5"/>
<path d="M385 384.2A16.9 16.9 0 0 1 368.1 401.1"/>
<path d="M368.1 384.2H385" stroke="#9aa6ae" stroke-width="1.5"/>
<path d="M385 408A16.9 16.9 0 0 1 368.1 424.9"/>
<path d="M368.1 408H385" stroke="#9aa6ae" stroke-width="1.5"/>
<path d="M385 432A16.9 16.9 0 0 1 368.1 448.9"/>
<path d="M368.1 432H385" stroke="#9aa6ae" stroke-width="1.5"/>
<use href="#wc" transform="translate(802.7 266.1) rotate(180)"/>
<path d="M802.7 260.4H812M802.7 271.8H812" stroke-width="0.7"/>
<circle cx="834.8" cy="275.3" r="15.8" stroke="#c3ccd2" stroke-width="0.7"/>
<path d="M823.2 268.1H836.3M823.2 282.5H836.3M825.3 269.3H838.3M825.3 281.3H838.3M826.2 269.3V281.3M827.4 269.3V281.3M827.4 270.9H839.4V279.7H827.4M827.4 275.3H839.4M839.4 271.7L846.2 273.1M839.4 278.9L846.2 277.5M839.4 273.9L846.8 274.5M839.4 276.7L846.8 276.1M844.6 270.7V273.9M844.6 276.7V279.9" stroke="#4d616b" stroke-width="0.6"/>
<circle cx="830.2" cy="273" r="1.1" stroke="#4d616b" stroke-width="0.6"/>
<circle cx="830.2" cy="277.6" r="1.1" stroke="#4d616b" stroke-width="0.6"/>
<rect x="855.4" y="282.5" width="8.5" height="11.4"/>
<rect x="857.4" y="284.6" width="5.6" height="7.4" rx="1" stroke-width="0.9"/>
<path d="M860.4 288.3H863.6" stroke="#7c8b93" stroke-width="0.8"/>
<path d="M838.4 225.4V247" stroke-width="1.2"/>
<path d="M838.4 225.4A21 21 0 0 1 859.2 247"/>
<rect x="831" y="390.3" width="10.5" height="8"/>
<rect x="832.6" y="391.2" width="7.4" height="5.6" rx="1" stroke-width="0.9"/>
<path d="M836.3 391V394.4" stroke="#7c8b93" stroke-width="0.8"/>
<circle cx="851.3" cy="411.5" r="16" stroke="#c3ccd2" stroke-width="0.7"/>
<path d="M862.9 404.3H849.8M862.9 418.7H849.8M860.8 405.5H847.8M860.8 417.5H847.8M859.9 405.5V417.5M858.7 405.5V417.5M858.7 407.1H846.7V415.9H858.7M858.7 411.5H846.7M846.7 407.9L839.9 409.3M846.7 415.1L839.9 413.7M846.7 410.1L839.3 410.7M846.7 412.9L839.3 412.3M841.5 406.9V410.1M841.5 412.9V416.1" stroke="#4d616b" stroke-width="0.6"/>
<circle cx="855.9" cy="409.2" r="1.1" stroke="#4d616b" stroke-width="0.6"/>
<circle cx="855.9" cy="413.8" r="1.1" stroke="#4d616b" stroke-width="0.6"/>
<use href="#wc" transform="translate(839.4 436.2) rotate(90) scale(0.98 0.9)"/>
<path d="M833.4 426V436.2M844.4 426V436.2" stroke-width="0.7"/>
<rect x="831.4" y="440" width="12" height="18.3" rx="1.6"/>
<path d="M844.5 438.7V463.4"/>
<path d="M837.4 439V444.6" stroke="#7c8b93" stroke-width="0.9"/>
<path d="M871 394.9H892.1" stroke-width="1.3"/>
<path d="M892.1 394.9A21 21 0 0 1 871 415.6"/>
<path d="M851.3 442.1H868.3" stroke-width="1.3"/>
<path d="M851.3 442.1A16.6 16.6 0 0 0 868.3 458"/>
</g>
<g fill="none" stroke="#9eabb4" stroke-width="0.6">
<rect x="661.1" y="236.3" width="2.3" height="10.7" fill="#b6c0c8" stroke="none"/>
<rect x="663.4" y="236.3" width="27.9" height="10.7"/>
<rect x="667.6" y="239.3" width="20.3" height="5.5" fill="#d3d9de" stroke="none"/>
<path d="M667.6 239.3V244.8M669.63 239.3V244.8M671.66 239.3V244.8M673.69 239.3V244.8M675.72 239.3V244.8M677.75 239.3V244.8M679.78 239.3V244.8M681.81 239.3V244.8M683.84 239.3V244.8M685.87 239.3V244.8M687.9 239.3V244.8" stroke-width="0.55"/>
<rect x="691.3" y="236.3" width="27.4" height="10.7"/>
<rect x="695.5" y="239.3" width="19.8" height="5.5" fill="#d3d9de" stroke="none"/>
<path d="M695.5 239.3V244.8M697.48 239.3V244.8M699.46 239.3V244.8M701.44 239.3V244.8M703.42 239.3V244.8M705.4 239.3V244.8M707.38 239.3V244.8M709.36 239.3V244.8M711.34 239.3V244.8M713.32 239.3V244.8M715.3 239.3V244.8" stroke-width="0.55"/>
<rect x="718.7" y="236.3" width="27.6" height="10.7"/>
<rect x="722.9" y="239.3" width="20" height="5.5" fill="#d3d9de" stroke="none"/>
<path d="M722.9 239.3V244.8M724.9 239.3V244.8M726.9 239.3V244.8M728.9 239.3V244.8M730.9 239.3V244.8M732.9 239.3V244.8M734.9 239.3V244.8M736.9 239.3V244.8M738.9 239.3V244.8M740.9 239.3V244.8M742.9 239.3V244.8" stroke-width="0.55"/>
<rect x="746.3" y="236.3" width="27.8" height="10.7"/>
<rect x="750.5" y="239.3" width="20.2" height="5.5" fill="#d3d9de" stroke="none"/>
<path d="M750.5 239.3V244.8M752.52 239.3V244.8M754.54 239.3V244.8M756.56 239.3V244.8M758.58 239.3V244.8M760.6 239.3V244.8M762.62 239.3V244.8M764.64 239.3V244.8M766.66 239.3V244.8M768.68 239.3V244.8M770.7 239.3V244.8" stroke-width="0.55"/>
<rect x="774.1" y="236.3" width="27.6" height="10.7"/>
<rect x="778.3" y="239.3" width="20" height="5.5" fill="#d3d9de" stroke="none"/>
<path d="M778.3 239.3V244.8M780.3 239.3V244.8M782.3 239.3V244.8M784.3 239.3V244.8M786.3 239.3V244.8M788.3 239.3V244.8M790.3 239.3V244.8M792.3 239.3V244.8M794.3 239.3V244.8M796.3 239.3V244.8M798.3 239.3V244.8" stroke-width="0.55"/>
<rect x="801.7" y="236.3" width="27.9" height="10.7"/>
<rect x="805.9" y="239.3" width="20.3" height="5.5" fill="#d3d9de" stroke="none"/>
<path d="M805.9 239.3V244.8M807.93 239.3V244.8M809.96 239.3V244.8M811.99 239.3V244.8M814.02 239.3V244.8M816.05 239.3V244.8M818.08 239.3V244.8M820.11 239.3V244.8M822.14 239.3V244.8M824.17 239.3V244.8M826.2 239.3V244.8" stroke-width="0.55"/>
<rect x="829.6" y="236.3" width="2.5" height="10.7" fill="#b6c0c8" stroke="none"/>
<rect x="673.4" y="465.6" width="2.4" height="10.6" fill="#b6c0c8" stroke="none"/>
<rect x="675.8" y="465.6" width="27.6" height="10.6"/>
<rect x="680" y="468.6" width="20" height="5.4" fill="#d3d9de" stroke="none"/>
<path d="M680 468.6V474M682 468.6V474M684 468.6V474M686 468.6V474M688 468.6V474M690 468.6V474M692 468.6V474M694 468.6V474M696 468.6V474M698 468.6V474M700 468.6V474" stroke-width="0.55"/>
<rect x="703.4" y="465.6" width="28.1" height="10.6"/>
<rect x="707.6" y="468.6" width="20.5" height="5.4" fill="#d3d9de" stroke="none"/>
<path d="M707.6 468.6V474M709.65 468.6V474M711.7 468.6V474M713.75 468.6V474M715.8 468.6V474M717.85 468.6V474M719.9 468.6V474M721.95 468.6V474M724 468.6V474M726.05 468.6V474M728.1 468.6V474" stroke-width="0.55"/>
<rect x="731.5" y="465.6" width="27.9" height="10.6"/>
<rect x="735.7" y="468.6" width="20.3" height="5.4" fill="#d3d9de" stroke="none"/>
<path d="M735.7 468.6V474M737.73 468.6V474M739.76 468.6V474M741.79 468.6V474M743.82 468.6V474M745.85 468.6V474M747.88 468.6V474M749.91 468.6V474M751.94 468.6V474M753.97 468.6V474M756 468.6V474" stroke-width="0.55"/>
<rect x="759.4" y="465.6" width="27.4" height="10.6"/>
<rect x="763.6" y="468.6" width="19.8" height="5.4" fill="#d3d9de" stroke="none"/>
<path d="M763.6 468.6V474M765.58 468.6V474M767.56 468.6V474M769.54 468.6V474M771.52 468.6V474M773.5 468.6V474M775.48 468.6V474M777.46 468.6V474M779.44 468.6V474M781.42 468.6V474M783.4 468.6V474" stroke-width="0.55"/>
<rect x="786.8" y="465.6" width="27.8" height="10.6"/>
<rect x="791" y="468.6" width="20.2" height="5.4" fill="#d3d9de" stroke="none"/>
<path d="M791 468.6V474M793.02 468.6V474M795.04 468.6V474M797.06 468.6V474M799.08 468.6V474M801.1 468.6V474M803.12 468.6V474M805.14 468.6V474M807.16 468.6V474M809.18 468.6V474M811.2 468.6V474" stroke-width="0.55"/>
<rect x="814.6" y="465.6" width="27.6" height="10.6"/>
<rect x="818.8" y="468.6" width="20" height="5.4" fill="#d3d9de" stroke="none"/>
<path d="M818.8 468.6V474M820.8 468.6V474M822.8 468.6V474M824.8 468.6V474M826.8 468.6V474M828.8 468.6V474M830.8 468.6V474M832.8 468.6V474M834.8 468.6V474M836.8 468.6V474M838.8 468.6V474" stroke-width="0.55"/>
<rect x="842.2" y="465.6" width="2.5" height="10.6" fill="#b6c0c8" stroke="none"/>
<rect x="844.7" y="465.6" width="26.3" height="10.6"/>
<rect x="853.4" y="467" width="7.4" height="8.4" stroke-width="0.5"/>
<path d="M852.6 467.2Q857 465.6 861.6 467.2M855 470.6H859.4V474.4H855Z" stroke-width="0.5"/>
</g>
<circle cx="621.3" cy="216.4" r="11.3" fill="none" stroke="#2c4a57" stroke-width="0.9"/>
<path d="M621.25 212.1H622.45V221.8H621.25Z" fill="#18303b"/>
<path d="M618.5 215L621.5 212.5" fill="none" stroke="#18303b" stroke-width="0.95"/>
<text x="639.3" y="219.9" font-size="10.6" stroke="#18303b" stroke-width="0.1" fill="#18303b" textLength="25.4" lengthAdjust="spacingAndGlyphs">573,7</text>
<circle cx="621.3" cy="494.4" r="11.3" fill="none" stroke="#2c4a57" stroke-width="0.9"/>
<text x="621.4" y="499.7" font-size="14" text-anchor="middle" fill="#18303b">2</text>
<text x="639.3" y="499.1" font-size="10.6" stroke="#18303b" stroke-width="0.1" fill="#18303b" textLength="26.4" lengthAdjust="spacingAndGlyphs">576,8</text>
</svg>
</body></html>
